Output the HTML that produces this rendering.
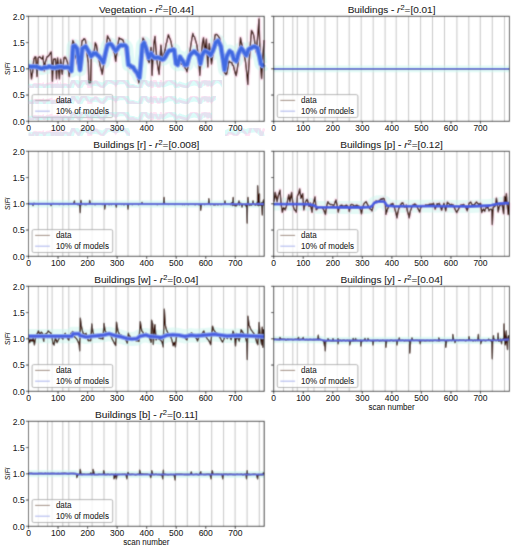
<!DOCTYPE html><html><head><meta charset="utf-8"><style>html,body{margin:0;padding:0;background:#fff;overflow:hidden;}svg{display:block;}text{font-family:"Liberation Sans",sans-serif;stroke:#1a1a1a;stroke-width:0.06px;}</style></head><body>
<svg width="516" height="550" viewBox="0 0 516 550">
<defs><filter id="bl" x="0" y="0" width="516" height="550" filterUnits="userSpaceOnUse"><feConvolveMatrix order="3" kernelMatrix="1 4 1 4 16 4 1 4 1" edgeMode="duplicate" preserveAlpha="true"/></filter></defs>
<rect width="516" height="550" fill="#fff"/>
<g filter="url(#bl)"><rect width="516" height="550" fill="#fff"/>
<line x1="38.3" y1="16.3" x2="38.3" y2="121.3" stroke="#c4c4c4" stroke-width="1"/>
<line x1="47.6" y1="16.3" x2="47.6" y2="121.3" stroke="#c4c4c4" stroke-width="1"/>
<line x1="52.1" y1="16.3" x2="52.1" y2="121.3" stroke="#c4c4c4" stroke-width="1"/>
<line x1="62.8" y1="16.3" x2="62.8" y2="121.3" stroke="#c4c4c4" stroke-width="1"/>
<line x1="68.8" y1="16.3" x2="68.8" y2="121.3" stroke="#c4c4c4" stroke-width="1"/>
<line x1="79.8" y1="16.3" x2="79.8" y2="121.3" stroke="#c4c4c4" stroke-width="1"/>
<line x1="92.1" y1="16.3" x2="92.1" y2="121.3" stroke="#c4c4c4" stroke-width="1"/>
<line x1="104" y1="16.3" x2="104" y2="121.3" stroke="#c4c4c4" stroke-width="1"/>
<line x1="116" y1="16.3" x2="116" y2="121.3" stroke="#c4c4c4" stroke-width="1"/>
<line x1="128" y1="16.3" x2="128" y2="121.3" stroke="#c4c4c4" stroke-width="1"/>
<line x1="139.9" y1="16.3" x2="139.9" y2="121.3" stroke="#c4c4c4" stroke-width="1"/>
<line x1="151" y1="16.3" x2="151" y2="121.3" stroke="#c4c4c4" stroke-width="1"/>
<line x1="163.4" y1="16.3" x2="163.4" y2="121.3" stroke="#c4c4c4" stroke-width="1"/>
<line x1="175.4" y1="16.3" x2="175.4" y2="121.3" stroke="#c4c4c4" stroke-width="1"/>
<line x1="187.3" y1="16.3" x2="187.3" y2="121.3" stroke="#c4c4c4" stroke-width="1"/>
<line x1="199.3" y1="16.3" x2="199.3" y2="121.3" stroke="#c4c4c4" stroke-width="1"/>
<line x1="211.7" y1="16.3" x2="211.7" y2="121.3" stroke="#c4c4c4" stroke-width="1"/>
<line x1="223.6" y1="16.3" x2="223.6" y2="121.3" stroke="#c4c4c4" stroke-width="1"/>
<line x1="235.1" y1="16.3" x2="235.1" y2="121.3" stroke="#c4c4c4" stroke-width="1"/>
<line x1="247.1" y1="16.3" x2="247.1" y2="121.3" stroke="#c4c4c4" stroke-width="1"/>
<line x1="259.3" y1="16.3" x2="259.3" y2="121.3" stroke="#c4c4c4" stroke-width="1"/>
<polyline points="28.5,66.6 29.62,66.5 30.75,66.56 31.88,66.87 33,66.4 34,66.53 35,66.73 36,66.97 37,66.72 38,67.2 39,67.54 40,67.98 41,68.47 42,68.5 43,67.84 44,67.8 45,67.34 46,67.5 47,67.56 48,67.19 49,66.29 50,66.5 51,67.24 52,67.48 53,67.43 54,67.66 55,67.8 56,67.26 57,66.92 58,67.23 59,66.56 60,66.8 61,66.67 62,66.89 63,66.86 64,67.5 65,67.34 66,67.19 67,67.47 68,67 69,67.77 70,68.5 71.4,71 72.3,58 73.1,46.4 75,45.8 76,47.29 77,48.5 78.5,58 80,70 81,62 82.4,48.5 83.47,47.8 84.53,47.26 85.6,46.4 86.95,48.66 88.3,51 89.75,53.38 91.2,56.2 92.4,55.25 93.6,53.3 94.75,53.8 95.9,53.3 97.35,55.09 98.8,56.2 99.95,57.86 101.1,59.1 102.25,60.67 103.4,62.6 105.2,54.4 106.35,49.48 107.5,45.1 108.95,44.34 110.4,44 111.55,44.72 112.7,46.3 113.7,48.1 114.7,49.27 115.7,50.9 117.15,49.25 118.6,46.9 119.75,45.89 120.9,45.1 122.07,45.56 123.23,45.45 124.4,45.1 125.55,45.75 126.7,47.4 128.4,64.9 129.6,65.16 130.8,66 131.95,67.01 133.1,67.2 134.8,70.1 136,71.52 137.2,73 138.35,75.83 139.5,77.7 140.7,64.9 142.4,45.1 144.1,42.8 146,48 147.35,52.85 148.7,57.9 149.85,55.17 151,53.3 152.15,55.13 153.3,56.7 154.45,57.58 155.6,57.9 156.77,57.67 157.93,57.49 159.1,57.9 160.25,58.33 161.4,59.1 162.6,59.56 163.8,59.1 164.95,57.61 166.1,55.6 167.55,52.87 169,50.9 170.45,50.35 171.9,50.3 173.05,49.65 174.2,49.8 176,63.7 177.7,64.9 178.85,60.36 180,56.7 181.2,58.75 182.4,60.2 183.55,62.23 184.7,64.9 185.85,64.96 187,64.9 188.15,60.75 189.3,56.7 190.5,54.69 191.7,53.3 192.85,52.63 194,51.5 195.15,52.03 196.3,53.3 197.5,54.59 198.7,55.6 200.4,63.7 202.1,55.5 203.5,52.82 204.9,50.9 206.35,51.57 207.8,52.4 209.25,53.56 210.7,55.3 211.8,52.87 212.9,50.9 214.35,47.02 215.8,42.2 216.9,41.75 218,40.7 219.45,43.4 220.9,46.5 222,53.43 223.1,59.6 224.5,69.8 225.6,62.96 226.7,56.7 228.15,53.69 229.6,50.9 230.7,52 231.8,52.4 232.9,56.14 234,59.6 235.1,59.95 236.2,61.1 237.3,57.94 238.4,53.8 239.85,50.61 241.3,48 242.75,49.96 244.2,52.4 245.3,54.12 246.4,55.3 247.45,52.23 248.5,49.5 249.5,48.8 250.5,48.07 251.5,48 252.95,46.84 254.4,46.5 255.85,47.33 257.3,48 258.4,52.09 259.5,56.7 260.9,64 262.4,65.5 264.2,64" fill="none" stroke="#c9f6ee" stroke-opacity="0.55" stroke-width="12.9" stroke-linejoin="round"/>
<polyline points="28.5,67 29.4,67.38 30.3,68.4 31.5,78.8 32.7,72 33.8,59.1 35,56.7 35.8,57 37,76.5 38.2,58 39.1,56.87 40,57 41,58.27 42,59 43,56 44.3,70.7 45.4,62 46.6,57.9 47.37,56.36 48.13,56.43 48.9,55.6 49.7,54.19 50.5,52.47 51.3,52.1 52.4,81.2 53.6,59.1 54.55,59.06 55.5,59 56.5,78.8 57.6,57.9 58.5,67.52 59.4,78.8 60.6,59.1 61.45,66.53 62.3,74.2 63.15,65.28 64,57.9 64.9,57.16 65.8,57.9 66.65,60.11 67.5,62.6 68.4,70.14 69.3,76.5 70.4,62.6 71.2,54.56 72,47.37 72.8,40.5 73.9,42.8 75.1,53.3 75.95,56.98 76.8,60.2 77.7,65.11 78.6,68.4 79.45,62.69 80.3,56.7 81.2,48.41 82.1,40.5 82.95,40.46 83.8,38.7 84.65,38.78 85.5,40.5 86.7,50.9 87.5,57.4 88.3,62.6 88.9,82.9 89.8,82.52 90.7,82.9 91.2,56.7 91.92,54.91 92.65,53.71 93.38,52.91 94.1,52.1 95.3,42.8 96.5,45.1 97.6,53.3 98.4,57.74 99.2,60.46 100,64.9 100.77,68.15 101.53,71.35 102.3,74.2 103.15,68.17 104,62.6 104.9,58.04 105.8,53.3 106.65,43.76 107.5,35.8 108.7,38.1 109.42,39.06 110.15,41.07 110.88,43.67 111.6,45.1 112.32,47.02 113.05,48.87 113.78,51.4 114.5,53.3 115.7,61.4 116.8,53.3 117.57,47.98 118.33,42.47 119.1,37.6 120,38.68 120.9,38.7 121.67,39.66 122.43,39.44 123.2,40.5 123.97,43.73 124.73,46.75 125.5,49.8 126.7,56.7 127.55,61.48 128.4,64.9 129.3,67.06 130.2,68.4 130.97,67.22 131.73,67.66 132.5,66 133.27,67.28 134.03,69.79 134.8,71.9 135.6,73.13 136.4,72.81 137.2,74.2 138.05,78.53 138.9,82.9 139.8,73.07 140.7,64.9 141.55,54.15 142.4,42.8 143,38.1 144.3,40.5 145.7,42.8 146.6,51.43 147.5,59.1 148.35,60.98 149.2,62.6 150.1,55.68 151,47.4 152.1,75.3 153,58.71 153.9,42.8 155,36.4 155.9,48.1 156.8,59.1 158,68.4 159.1,74.2 160,59.82 160.9,45.1 161.75,53.39 162.6,61.4 163.45,57.27 164.3,53.3 165.2,49.26 166.1,44 166.87,41.7 167.63,37.75 168.4,34.7 169.3,37.3 170.2,39.3 170.97,41.61 171.73,45.86 172.5,48.6 173.27,50.43 174.03,52.62 174.8,53.3 175.7,59.68 176.6,64.9 177.37,62.58 178.13,60.83 178.9,59.1 179.67,60.94 180.43,61.31 181.2,63.7 181.97,64.4 182.73,64.64 183.5,66 184.4,66.51 185.3,68.4 186.15,69.36 187,71.9 187.9,67.13 188.8,61.4 189.65,53.73 190.5,47.4 191.27,42.31 192.03,37.94 192.8,33.5 193.6,36.1 194.4,36.61 195.2,39.3 196.05,42.11 196.9,45.1 197.8,52.19 198.7,59.1 199.8,75.3 200.55,65.84 201.3,55 202.5,42.2 203.5,37.8 204.2,45.67 204.9,52.4 205.65,46.51 206.4,39.3 207.1,52.7 207.8,66.9 208.55,55.1 209.3,43.6 210.03,50.15 210.77,57.89 211.5,64 212.2,59.72 212.9,53.8 213.63,46.87 214.37,40.62 215.1,34.9 215.83,34.42 216.57,34.42 217.3,34.9 218.03,35.84 218.77,36.99 219.5,37.8 220.22,41.37 220.95,44.91 221.68,49.65 222.4,53.8 223.45,63.01 224.5,72.7 225.23,73.32 225.97,74.52 226.7,74.2 227.43,70.18 228.17,65.49 228.9,61.1 229.63,61.78 230.37,62.35 231.1,62.5 231.83,62.7 232.57,65.22 233.3,65.5 234.7,71.3 235.45,73.95 236.2,75.6 236.93,71.44 237.67,66.47 238.4,61.1 239.45,49.26 240.5,37.8 241.23,41.52 241.97,44.89 242.7,49.5 243.42,52.99 244.15,55.21 244.88,58.47 245.6,62.5 246.33,69.28 247.07,76.49 247.8,84.4 248.55,71.71 249.3,59.6 250.03,49.09 250.77,39.3 251.5,30.5 252.55,32.07 253.6,34.9 254.35,39.28 255.1,45.1 255.8,48.5 256.5,52.4 257.25,41.35 258,32 259,18.9 260.2,59.6 260.9,69.72 261.6,78.5 262.35,65.66 263.1,52.4 264.2,40" fill="none" stroke="#ffc4e2" stroke-opacity="0.45" stroke-width="4" stroke-linejoin="round"/>
<polyline points="28.5,67 29.4,67.38 30.3,68.4 31.5,78.8 32.7,72 33.8,59.1 35,56.7 35.8,57 37,76.5 38.2,58 39.1,56.87 40,57 41,58.27 42,59 43,56 44.3,70.7 45.4,62 46.6,57.9 47.37,56.36 48.13,56.43 48.9,55.6 49.7,54.19 50.5,52.47 51.3,52.1 52.4,81.2 53.6,59.1 54.55,59.06 55.5,59 56.5,78.8 57.6,57.9 58.5,67.52 59.4,78.8 60.6,59.1 61.45,66.53 62.3,74.2 63.15,65.28 64,57.9 64.9,57.16 65.8,57.9 66.65,60.11 67.5,62.6 68.4,70.14 69.3,76.5 70.4,62.6 71.2,54.56 72,47.37 72.8,40.5 73.9,42.8 75.1,53.3 75.95,56.98 76.8,60.2 77.7,65.11 78.6,68.4 79.45,62.69 80.3,56.7 81.2,48.41 82.1,40.5 82.95,40.46 83.8,38.7 84.65,38.78 85.5,40.5 86.7,50.9 87.5,57.4 88.3,62.6 88.9,82.9 89.8,82.52 90.7,82.9 91.2,56.7 91.92,54.91 92.65,53.71 93.38,52.91 94.1,52.1 95.3,42.8 96.5,45.1 97.6,53.3 98.4,57.74 99.2,60.46 100,64.9 100.77,68.15 101.53,71.35 102.3,74.2 103.15,68.17 104,62.6 104.9,58.04 105.8,53.3 106.65,43.76 107.5,35.8 108.7,38.1 109.42,39.06 110.15,41.07 110.88,43.67 111.6,45.1 112.32,47.02 113.05,48.87 113.78,51.4 114.5,53.3 115.7,61.4 116.8,53.3 117.57,47.98 118.33,42.47 119.1,37.6 120,38.68 120.9,38.7 121.67,39.66 122.43,39.44 123.2,40.5 123.97,43.73 124.73,46.75 125.5,49.8 126.7,56.7 127.55,61.48 128.4,64.9 129.3,67.06 130.2,68.4 130.97,67.22 131.73,67.66 132.5,66 133.27,67.28 134.03,69.79 134.8,71.9 135.6,73.13 136.4,72.81 137.2,74.2 138.05,78.53 138.9,82.9 139.8,73.07 140.7,64.9 141.55,54.15 142.4,42.8 143,38.1 144.3,40.5 145.7,42.8 146.6,51.43 147.5,59.1 148.35,60.98 149.2,62.6 150.1,55.68 151,47.4 152.1,75.3 153,58.71 153.9,42.8 155,36.4 155.9,48.1 156.8,59.1 158,68.4 159.1,74.2 160,59.82 160.9,45.1 161.75,53.39 162.6,61.4 163.45,57.27 164.3,53.3 165.2,49.26 166.1,44 166.87,41.7 167.63,37.75 168.4,34.7 169.3,37.3 170.2,39.3 170.97,41.61 171.73,45.86 172.5,48.6 173.27,50.43 174.03,52.62 174.8,53.3 175.7,59.68 176.6,64.9 177.37,62.58 178.13,60.83 178.9,59.1 179.67,60.94 180.43,61.31 181.2,63.7 181.97,64.4 182.73,64.64 183.5,66 184.4,66.51 185.3,68.4 186.15,69.36 187,71.9 187.9,67.13 188.8,61.4 189.65,53.73 190.5,47.4 191.27,42.31 192.03,37.94 192.8,33.5 193.6,36.1 194.4,36.61 195.2,39.3 196.05,42.11 196.9,45.1 197.8,52.19 198.7,59.1 199.8,75.3 200.55,65.84 201.3,55 202.5,42.2 203.5,37.8 204.2,45.67 204.9,52.4 205.65,46.51 206.4,39.3 207.1,52.7 207.8,66.9 208.55,55.1 209.3,43.6 210.03,50.15 210.77,57.89 211.5,64 212.2,59.72 212.9,53.8 213.63,46.87 214.37,40.62 215.1,34.9 215.83,34.42 216.57,34.42 217.3,34.9 218.03,35.84 218.77,36.99 219.5,37.8 220.22,41.37 220.95,44.91 221.68,49.65 222.4,53.8 223.45,63.01 224.5,72.7 225.23,73.32 225.97,74.52 226.7,74.2 227.43,70.18 228.17,65.49 228.9,61.1 229.63,61.78 230.37,62.35 231.1,62.5 231.83,62.7 232.57,65.22 233.3,65.5 234.7,71.3 235.45,73.95 236.2,75.6 236.93,71.44 237.67,66.47 238.4,61.1 239.45,49.26 240.5,37.8 241.23,41.52 241.97,44.89 242.7,49.5 243.42,52.99 244.15,55.21 244.88,58.47 245.6,62.5 246.33,69.28 247.07,76.49 247.8,84.4 248.55,71.71 249.3,59.6 250.03,49.09 250.77,39.3 251.5,30.5 252.55,32.07 253.6,34.9 254.35,39.28 255.1,45.1 255.8,48.5 256.5,52.4 257.25,41.35 258,32 259,18.9 260.2,59.6 260.9,69.72 261.6,78.5 262.35,65.66 263.1,52.4 264.2,40" fill="none" stroke="#3a160a" stroke-width="1.4" stroke-linejoin="round"/>
<polyline points="28.5,66.6 29.62,66.5 30.75,66.56 31.88,66.87 33,66.4 34,66.53 35,66.73 36,66.97 37,66.72 38,67.2 39,67.54 40,67.98 41,68.47 42,68.5 43,67.84 44,67.8 45,67.34 46,67.5 47,67.56 48,67.19 49,66.29 50,66.5 51,67.24 52,67.48 53,67.43 54,67.66 55,67.8 56,67.26 57,66.92 58,67.23 59,66.56 60,66.8 61,66.67 62,66.89 63,66.86 64,67.5 65,67.34 66,67.19 67,67.47 68,67 69,67.77 70,68.5 71.4,71 72.3,58 73.1,46.4 75,45.8 76,47.29 77,48.5 78.5,58 80,70 81,62 82.4,48.5 83.47,47.8 84.53,47.26 85.6,46.4 86.95,48.66 88.3,51 89.75,53.38 91.2,56.2 92.4,55.25 93.6,53.3 94.75,53.8 95.9,53.3 97.35,55.09 98.8,56.2 99.95,57.86 101.1,59.1 102.25,60.67 103.4,62.6 105.2,54.4 106.35,49.48 107.5,45.1 108.95,44.34 110.4,44 111.55,44.72 112.7,46.3 113.7,48.1 114.7,49.27 115.7,50.9 117.15,49.25 118.6,46.9 119.75,45.89 120.9,45.1 122.07,45.56 123.23,45.45 124.4,45.1 125.55,45.75 126.7,47.4 128.4,64.9 129.6,65.16 130.8,66 131.95,67.01 133.1,67.2 134.8,70.1 136,71.52 137.2,73 138.35,75.83 139.5,77.7 140.7,64.9 142.4,45.1 144.1,42.8 146,48 147.35,52.85 148.7,57.9 149.85,55.17 151,53.3 152.15,55.13 153.3,56.7 154.45,57.58 155.6,57.9 156.77,57.67 157.93,57.49 159.1,57.9 160.25,58.33 161.4,59.1 162.6,59.56 163.8,59.1 164.95,57.61 166.1,55.6 167.55,52.87 169,50.9 170.45,50.35 171.9,50.3 173.05,49.65 174.2,49.8 176,63.7 177.7,64.9 178.85,60.36 180,56.7 181.2,58.75 182.4,60.2 183.55,62.23 184.7,64.9 185.85,64.96 187,64.9 188.15,60.75 189.3,56.7 190.5,54.69 191.7,53.3 192.85,52.63 194,51.5 195.15,52.03 196.3,53.3 197.5,54.59 198.7,55.6 200.4,63.7 202.1,55.5 203.5,52.82 204.9,50.9 206.35,51.57 207.8,52.4 209.25,53.56 210.7,55.3 211.8,52.87 212.9,50.9 214.35,47.02 215.8,42.2 216.9,41.75 218,40.7 219.45,43.4 220.9,46.5 222,53.43 223.1,59.6 224.5,69.8 225.6,62.96 226.7,56.7 228.15,53.69 229.6,50.9 230.7,52 231.8,52.4 232.9,56.14 234,59.6 235.1,59.95 236.2,61.1 237.3,57.94 238.4,53.8 239.85,50.61 241.3,48 242.75,49.96 244.2,52.4 245.3,54.12 246.4,55.3 247.45,52.23 248.5,49.5 249.5,48.8 250.5,48.07 251.5,48 252.95,46.84 254.4,46.5 255.85,47.33 257.3,48 258.4,52.09 259.5,56.7 260.9,64 262.4,65.5 264.2,64" fill="none" stroke="#86a2f0" stroke-width="5.3" stroke-linejoin="round"/>
<polyline points="28.5,66.6 29.62,66.5 30.75,66.56 31.88,66.87 33,66.4 34,66.53 35,66.73 36,66.97 37,66.72 38,67.2 39,67.54 40,67.98 41,68.47 42,68.5 43,67.84 44,67.8 45,67.34 46,67.5 47,67.56 48,67.19 49,66.29 50,66.5 51,67.24 52,67.48 53,67.43 54,67.66 55,67.8 56,67.26 57,66.92 58,67.23 59,66.56 60,66.8 61,66.67 62,66.89 63,66.86 64,67.5 65,67.34 66,67.19 67,67.47 68,67 69,67.77 70,68.5 71.4,71 72.3,58 73.1,46.4 75,45.8 76,47.29 77,48.5 78.5,58 80,70 81,62 82.4,48.5 83.47,47.8 84.53,47.26 85.6,46.4 86.95,48.66 88.3,51 89.75,53.38 91.2,56.2 92.4,55.25 93.6,53.3 94.75,53.8 95.9,53.3 97.35,55.09 98.8,56.2 99.95,57.86 101.1,59.1 102.25,60.67 103.4,62.6 105.2,54.4 106.35,49.48 107.5,45.1 108.95,44.34 110.4,44 111.55,44.72 112.7,46.3 113.7,48.1 114.7,49.27 115.7,50.9 117.15,49.25 118.6,46.9 119.75,45.89 120.9,45.1 122.07,45.56 123.23,45.45 124.4,45.1 125.55,45.75 126.7,47.4 128.4,64.9 129.6,65.16 130.8,66 131.95,67.01 133.1,67.2 134.8,70.1 136,71.52 137.2,73 138.35,75.83 139.5,77.7 140.7,64.9 142.4,45.1 144.1,42.8 146,48 147.35,52.85 148.7,57.9 149.85,55.17 151,53.3 152.15,55.13 153.3,56.7 154.45,57.58 155.6,57.9 156.77,57.67 157.93,57.49 159.1,57.9 160.25,58.33 161.4,59.1 162.6,59.56 163.8,59.1 164.95,57.61 166.1,55.6 167.55,52.87 169,50.9 170.45,50.35 171.9,50.3 173.05,49.65 174.2,49.8 176,63.7 177.7,64.9 178.85,60.36 180,56.7 181.2,58.75 182.4,60.2 183.55,62.23 184.7,64.9 185.85,64.96 187,64.9 188.15,60.75 189.3,56.7 190.5,54.69 191.7,53.3 192.85,52.63 194,51.5 195.15,52.03 196.3,53.3 197.5,54.59 198.7,55.6 200.4,63.7 202.1,55.5 203.5,52.82 204.9,50.9 206.35,51.57 207.8,52.4 209.25,53.56 210.7,55.3 211.8,52.87 212.9,50.9 214.35,47.02 215.8,42.2 216.9,41.75 218,40.7 219.45,43.4 220.9,46.5 222,53.43 223.1,59.6 224.5,69.8 225.6,62.96 226.7,56.7 228.15,53.69 229.6,50.9 230.7,52 231.8,52.4 232.9,56.14 234,59.6 235.1,59.95 236.2,61.1 237.3,57.94 238.4,53.8 239.85,50.61 241.3,48 242.75,49.96 244.2,52.4 245.3,54.12 246.4,55.3 247.45,52.23 248.5,49.5 249.5,48.8 250.5,48.07 251.5,48 252.95,46.84 254.4,46.5 255.85,47.33 257.3,48 258.4,52.09 259.5,56.7 260.9,64 262.4,65.5 264.2,64" fill="none" stroke="#4169e1" stroke-width="3.3" stroke-linejoin="round"/>
<rect x="32.1" y="94.6" width="80.6" height="22.9" rx="1.6" fill="#fff" fill-opacity="0.8" stroke="#9a9a9a" stroke-width="0.8"/>
<line x1="35.1" y1="100.4" x2="49.9" y2="100.4" stroke="#9a8272" stroke-width="1.05"/>
<line x1="35.1" y1="111.2" x2="49.9" y2="111.2" stroke="#b3bcef" stroke-width="1.2"/>
<rect x="28.5" y="16.3" width="235.7" height="105" fill="none" stroke="#111111" stroke-width="0.9"/>
<line x1="28.5" y1="121.3" x2="28.5" y2="123.8" stroke="#111111" stroke-width="0.9"/>
<line x1="58.04" y1="121.3" x2="58.04" y2="123.8" stroke="#111111" stroke-width="0.9"/>
<line x1="87.58" y1="121.3" x2="87.58" y2="123.8" stroke="#111111" stroke-width="0.9"/>
<line x1="117.12" y1="121.3" x2="117.12" y2="123.8" stroke="#111111" stroke-width="0.9"/>
<line x1="146.66" y1="121.3" x2="146.66" y2="123.8" stroke="#111111" stroke-width="0.9"/>
<line x1="176.2" y1="121.3" x2="176.2" y2="123.8" stroke="#111111" stroke-width="0.9"/>
<line x1="205.74" y1="121.3" x2="205.74" y2="123.8" stroke="#111111" stroke-width="0.9"/>
<line x1="235.28" y1="121.3" x2="235.28" y2="123.8" stroke="#111111" stroke-width="0.9"/>
<line x1="25.9" y1="121.3" x2="28.5" y2="121.3" stroke="#111111" stroke-width="0.9"/>
<line x1="25.9" y1="95.05" x2="28.5" y2="95.05" stroke="#111111" stroke-width="0.9"/>
<line x1="25.9" y1="68.8" x2="28.5" y2="68.8" stroke="#111111" stroke-width="0.9"/>
<line x1="25.9" y1="42.55" x2="28.5" y2="42.55" stroke="#111111" stroke-width="0.9"/>
<line x1="25.9" y1="16.3" x2="28.5" y2="16.3" stroke="#111111" stroke-width="0.9"/>
<line x1="283.5" y1="16.3" x2="283.5" y2="121.3" stroke="#c4c4c4" stroke-width="1"/>
<line x1="292.8" y1="16.3" x2="292.8" y2="121.3" stroke="#c4c4c4" stroke-width="1"/>
<line x1="297.3" y1="16.3" x2="297.3" y2="121.3" stroke="#c4c4c4" stroke-width="1"/>
<line x1="308" y1="16.3" x2="308" y2="121.3" stroke="#c4c4c4" stroke-width="1"/>
<line x1="314" y1="16.3" x2="314" y2="121.3" stroke="#c4c4c4" stroke-width="1"/>
<line x1="325" y1="16.3" x2="325" y2="121.3" stroke="#c4c4c4" stroke-width="1"/>
<line x1="337.3" y1="16.3" x2="337.3" y2="121.3" stroke="#c4c4c4" stroke-width="1"/>
<line x1="349.2" y1="16.3" x2="349.2" y2="121.3" stroke="#c4c4c4" stroke-width="1"/>
<line x1="361.2" y1="16.3" x2="361.2" y2="121.3" stroke="#c4c4c4" stroke-width="1"/>
<line x1="373.2" y1="16.3" x2="373.2" y2="121.3" stroke="#c4c4c4" stroke-width="1"/>
<line x1="385.1" y1="16.3" x2="385.1" y2="121.3" stroke="#c4c4c4" stroke-width="1"/>
<line x1="396.2" y1="16.3" x2="396.2" y2="121.3" stroke="#c4c4c4" stroke-width="1"/>
<line x1="408.6" y1="16.3" x2="408.6" y2="121.3" stroke="#c4c4c4" stroke-width="1"/>
<line x1="420.6" y1="16.3" x2="420.6" y2="121.3" stroke="#c4c4c4" stroke-width="1"/>
<line x1="432.5" y1="16.3" x2="432.5" y2="121.3" stroke="#c4c4c4" stroke-width="1"/>
<line x1="444.5" y1="16.3" x2="444.5" y2="121.3" stroke="#c4c4c4" stroke-width="1"/>
<line x1="456.9" y1="16.3" x2="456.9" y2="121.3" stroke="#c4c4c4" stroke-width="1"/>
<line x1="468.8" y1="16.3" x2="468.8" y2="121.3" stroke="#c4c4c4" stroke-width="1"/>
<line x1="480.3" y1="16.3" x2="480.3" y2="121.3" stroke="#c4c4c4" stroke-width="1"/>
<line x1="492.3" y1="16.3" x2="492.3" y2="121.3" stroke="#c4c4c4" stroke-width="1"/>
<line x1="504.5" y1="16.3" x2="504.5" y2="121.3" stroke="#c4c4c4" stroke-width="1"/>
<polyline points="273.7,68.8 509.4,68.8" fill="none" stroke="#c9f6ee" stroke-opacity="0.55" stroke-width="6.8" stroke-linejoin="round"/>
<polyline points="273.7,68.8 509.4,68.8" fill="none" stroke="#3a160a" stroke-width="1.4" stroke-linejoin="round"/>
<polyline points="273.7,68.8 509.4,68.8" fill="none" stroke="#5c68d8" stroke-width="1.8" stroke-linejoin="round"/>
<rect x="277.3" y="94.6" width="80.6" height="22.9" rx="1.6" fill="#fff" fill-opacity="0.8" stroke="#9a9a9a" stroke-width="0.8"/>
<line x1="280.3" y1="100.4" x2="295.1" y2="100.4" stroke="#9a8272" stroke-width="1.05"/>
<line x1="280.3" y1="111.2" x2="295.1" y2="111.2" stroke="#b3bcef" stroke-width="1.2"/>
<rect x="273.7" y="16.3" width="235.7" height="105" fill="none" stroke="#111111" stroke-width="0.9"/>
<line x1="273.7" y1="121.3" x2="273.7" y2="123.8" stroke="#111111" stroke-width="0.9"/>
<line x1="303.24" y1="121.3" x2="303.24" y2="123.8" stroke="#111111" stroke-width="0.9"/>
<line x1="332.78" y1="121.3" x2="332.78" y2="123.8" stroke="#111111" stroke-width="0.9"/>
<line x1="362.32" y1="121.3" x2="362.32" y2="123.8" stroke="#111111" stroke-width="0.9"/>
<line x1="391.86" y1="121.3" x2="391.86" y2="123.8" stroke="#111111" stroke-width="0.9"/>
<line x1="421.4" y1="121.3" x2="421.4" y2="123.8" stroke="#111111" stroke-width="0.9"/>
<line x1="450.94" y1="121.3" x2="450.94" y2="123.8" stroke="#111111" stroke-width="0.9"/>
<line x1="480.48" y1="121.3" x2="480.48" y2="123.8" stroke="#111111" stroke-width="0.9"/>
<line x1="271.1" y1="121.3" x2="273.7" y2="121.3" stroke="#111111" stroke-width="0.9"/>
<line x1="271.1" y1="95.05" x2="273.7" y2="95.05" stroke="#111111" stroke-width="0.9"/>
<line x1="271.1" y1="68.8" x2="273.7" y2="68.8" stroke="#111111" stroke-width="0.9"/>
<line x1="271.1" y1="42.55" x2="273.7" y2="42.55" stroke="#111111" stroke-width="0.9"/>
<line x1="271.1" y1="16.3" x2="273.7" y2="16.3" stroke="#111111" stroke-width="0.9"/>
<line x1="38.3" y1="151.3" x2="38.3" y2="256.3" stroke="#c4c4c4" stroke-width="1"/>
<line x1="47.6" y1="151.3" x2="47.6" y2="256.3" stroke="#c4c4c4" stroke-width="1"/>
<line x1="52.1" y1="151.3" x2="52.1" y2="256.3" stroke="#c4c4c4" stroke-width="1"/>
<line x1="62.8" y1="151.3" x2="62.8" y2="256.3" stroke="#c4c4c4" stroke-width="1"/>
<line x1="68.8" y1="151.3" x2="68.8" y2="256.3" stroke="#c4c4c4" stroke-width="1"/>
<line x1="79.8" y1="151.3" x2="79.8" y2="256.3" stroke="#c4c4c4" stroke-width="1"/>
<line x1="92.1" y1="151.3" x2="92.1" y2="256.3" stroke="#c4c4c4" stroke-width="1"/>
<line x1="104" y1="151.3" x2="104" y2="256.3" stroke="#c4c4c4" stroke-width="1"/>
<line x1="116" y1="151.3" x2="116" y2="256.3" stroke="#c4c4c4" stroke-width="1"/>
<line x1="128" y1="151.3" x2="128" y2="256.3" stroke="#c4c4c4" stroke-width="1"/>
<line x1="139.9" y1="151.3" x2="139.9" y2="256.3" stroke="#c4c4c4" stroke-width="1"/>
<line x1="151" y1="151.3" x2="151" y2="256.3" stroke="#c4c4c4" stroke-width="1"/>
<line x1="163.4" y1="151.3" x2="163.4" y2="256.3" stroke="#c4c4c4" stroke-width="1"/>
<line x1="175.4" y1="151.3" x2="175.4" y2="256.3" stroke="#c4c4c4" stroke-width="1"/>
<line x1="187.3" y1="151.3" x2="187.3" y2="256.3" stroke="#c4c4c4" stroke-width="1"/>
<line x1="199.3" y1="151.3" x2="199.3" y2="256.3" stroke="#c4c4c4" stroke-width="1"/>
<line x1="211.7" y1="151.3" x2="211.7" y2="256.3" stroke="#c4c4c4" stroke-width="1"/>
<line x1="223.6" y1="151.3" x2="223.6" y2="256.3" stroke="#c4c4c4" stroke-width="1"/>
<line x1="235.1" y1="151.3" x2="235.1" y2="256.3" stroke="#c4c4c4" stroke-width="1"/>
<line x1="247.1" y1="151.3" x2="247.1" y2="256.3" stroke="#c4c4c4" stroke-width="1"/>
<line x1="259.3" y1="151.3" x2="259.3" y2="256.3" stroke="#c4c4c4" stroke-width="1"/>
<polyline points="28.5,203.9 264.2,204.2" fill="none" stroke="#c9f6ee" stroke-opacity="0.55" stroke-width="7.2" stroke-linejoin="round"/>
<polyline points="28.5,203.74 29.5,204.05 30.5,203.87 31.5,204.11 32.5,204.13 33,205.6 33.5,203.57 34.5,203.52 35.5,204.35 36.5,203.77 37.5,203.75 38.5,204.51 39.5,203.98 40.5,204.35 41.5,203.99 42.5,204.16 43.5,203.67 44.5,204.16 45.5,204.39 46.5,204.05 47.5,204.27 48.5,204.2 49.5,203.59 50.5,204.29 51,205.6 51.5,204.12 52.5,203.83 53.5,203.56 54.5,204.4 55.5,204.01 56.5,204.25 57.5,204.42 58.5,204.25 59.5,204.46 60.5,203.94 61.5,204.34 62.5,203.99 63.5,204.48 64.5,204.42 65.5,203.64 66.5,203.68 67.5,203.77 68.5,204.52 69.5,203.99 70.5,204.18 71.5,203.86 72.5,204.06 73.5,203.94 74.5,201 74.5,203.91 75.5,204.14 76.5,204.15 77.5,204.47 78.5,204.25 79.5,204.49 80.3,212.6 80.5,204.42 81,200.5 81.5,204.56 82.5,204.24 83.5,203.73 84.5,204.43 85.5,204.54 86.5,204.48 87.5,204.14 88.5,204.29 89.5,203.79 89.6,200.5 90.5,204.41 91.5,204.15 92.5,203.87 93.5,203.65 94.5,204.44 95.5,204.58 96.5,203.68 97.5,204.39 98.5,204 99.5,203.74 100.5,203.89 101.5,204.36 102.5,204.47 103.5,203.64 104.5,204.21 104.7,209 105.5,203.64 106.5,204.32 107.5,203.93 108.5,204.48 109.5,204.58 110.5,204.11 111.5,204.6 112.5,203.92 113.5,203.69 114.5,204.21 115.5,203.64 116.4,207 116.5,203.81 117.5,204.02 118.5,204.23 119.5,203.77 120.5,203.66 121.5,204.49 122.5,203.93 123.5,204.58 124.5,204.52 125.5,204 126.5,204.09 127.5,204.15 128,209 128.5,204.27 129.5,204.22 130.5,204.19 131.5,204.25 132.5,204.57 133.5,204.14 134.5,204.07 135.5,204.36 136.5,203.88 137.5,203.94 138.5,204.62 139.5,204.16 140.5,204.19 141.5,203.66 142,202.5 142.5,204.06 143.5,204.23 144.5,203.67 145.5,204.26 146.5,204.28 147.5,203.71 148.5,204.28 149.5,204.12 150.5,204.33 151.5,204.01 152.5,204.36 153.5,204.4 154.5,203.68 155.5,203.72 156.5,204.34 157.5,204.63 158.5,203.92 159.5,204.12 160.5,204.26 161.5,203.99 162.5,204.03 163.5,203.98 164.1,197.4 164.5,204.04 165.5,204.27 166.5,203.98 167.5,204.05 168.5,204.45 169.5,203.71 170.5,204.25 171.5,204.42 172.5,203.99 173.5,203.91 174.5,204.49 175.5,203.93 176.5,203.88 177.5,204.12 178.5,204.39 179.5,203.79 180.5,204.02 181.5,204.03 182.5,204.53 183.5,204.14 184.5,204.55 185.5,203.87 186.5,204.04 187.5,204.35 188.5,204.59 189.5,204.16 190.5,203.93 191.5,203.83 192.5,204.24 193.5,203.9 194.5,204.52 195.5,204.55 196.5,203.9 197.5,203.99 198.5,204.52 199.5,204.36 200.5,204.53 200.7,210.2 201.5,204.07 202.5,203.85 203.5,204.01 204.5,204.52 205.5,204 206.5,204.07 207.5,204.14 208.5,204.15 208.8,198.6 209.5,204.14 210.5,204.65 211.5,203.89 212.5,203.74 213.5,204.68 214.5,204.62 215.5,204.72 216.5,204.17 217.5,204.69 218.5,204.67 219.5,203.97 220.5,204.49 221.5,204.58 222.5,204.41 223.5,204.27 224.5,204.04 225,201 225.5,204.09 226.5,203.98 227.5,203.82 228.5,204.34 229.5,204.04 230.5,204.57 231.5,202.8 232.5,205.55 233.2,197.4 233.5,204.88 234.5,205.62 235.5,205.53 236,206 236.5,205.54 237.5,204.51 238.5,202.71 239,201 239.5,205.05 240.5,203.22 241.5,203.63 242,207 242.5,204.79 243.5,204.35 244.5,204 245.5,205.68 246.5,204.64 247.2,223 247.5,203.77 248,197.4 248.5,203.49 249.5,205.44 250.5,204.21 251.5,205.19 252.5,203.81 253,201 253.5,203.32 254.5,204.4 255.5,205.3 256.5,203.24 257.5,205.22 257.6,185.8 258.5,205.64 259.5,194 259.5,205.27 260.5,205.33 261.5,202.72 262.3,214.9 262.5,204.71 263.5,200 263.5,205.46" fill="none" stroke="#3a160a" stroke-width="1.4" stroke-linejoin="round"/>
<polyline points="28.5,203.9 264.2,204.2" fill="none" stroke="#5c68d8" stroke-width="2.2" stroke-linejoin="round"/>
<rect x="32.1" y="229.6" width="80.6" height="22.9" rx="1.6" fill="#fff" fill-opacity="0.8" stroke="#9a9a9a" stroke-width="0.8"/>
<line x1="35.1" y1="235.4" x2="49.9" y2="235.4" stroke="#9a8272" stroke-width="1.05"/>
<line x1="35.1" y1="246.2" x2="49.9" y2="246.2" stroke="#b3bcef" stroke-width="1.2"/>
<rect x="28.5" y="151.3" width="235.7" height="105" fill="none" stroke="#111111" stroke-width="0.9"/>
<line x1="28.5" y1="256.3" x2="28.5" y2="258.8" stroke="#111111" stroke-width="0.9"/>
<line x1="58.04" y1="256.3" x2="58.04" y2="258.8" stroke="#111111" stroke-width="0.9"/>
<line x1="87.58" y1="256.3" x2="87.58" y2="258.8" stroke="#111111" stroke-width="0.9"/>
<line x1="117.12" y1="256.3" x2="117.12" y2="258.8" stroke="#111111" stroke-width="0.9"/>
<line x1="146.66" y1="256.3" x2="146.66" y2="258.8" stroke="#111111" stroke-width="0.9"/>
<line x1="176.2" y1="256.3" x2="176.2" y2="258.8" stroke="#111111" stroke-width="0.9"/>
<line x1="205.74" y1="256.3" x2="205.74" y2="258.8" stroke="#111111" stroke-width="0.9"/>
<line x1="235.28" y1="256.3" x2="235.28" y2="258.8" stroke="#111111" stroke-width="0.9"/>
<line x1="25.9" y1="256.3" x2="28.5" y2="256.3" stroke="#111111" stroke-width="0.9"/>
<line x1="25.9" y1="230.05" x2="28.5" y2="230.05" stroke="#111111" stroke-width="0.9"/>
<line x1="25.9" y1="203.8" x2="28.5" y2="203.8" stroke="#111111" stroke-width="0.9"/>
<line x1="25.9" y1="177.55" x2="28.5" y2="177.55" stroke="#111111" stroke-width="0.9"/>
<line x1="25.9" y1="151.3" x2="28.5" y2="151.3" stroke="#111111" stroke-width="0.9"/>
<line x1="283.5" y1="151.3" x2="283.5" y2="256.3" stroke="#c4c4c4" stroke-width="1"/>
<line x1="292.8" y1="151.3" x2="292.8" y2="256.3" stroke="#c4c4c4" stroke-width="1"/>
<line x1="297.3" y1="151.3" x2="297.3" y2="256.3" stroke="#c4c4c4" stroke-width="1"/>
<line x1="308" y1="151.3" x2="308" y2="256.3" stroke="#c4c4c4" stroke-width="1"/>
<line x1="314" y1="151.3" x2="314" y2="256.3" stroke="#c4c4c4" stroke-width="1"/>
<line x1="325" y1="151.3" x2="325" y2="256.3" stroke="#c4c4c4" stroke-width="1"/>
<line x1="337.3" y1="151.3" x2="337.3" y2="256.3" stroke="#c4c4c4" stroke-width="1"/>
<line x1="349.2" y1="151.3" x2="349.2" y2="256.3" stroke="#c4c4c4" stroke-width="1"/>
<line x1="361.2" y1="151.3" x2="361.2" y2="256.3" stroke="#c4c4c4" stroke-width="1"/>
<line x1="373.2" y1="151.3" x2="373.2" y2="256.3" stroke="#c4c4c4" stroke-width="1"/>
<line x1="385.1" y1="151.3" x2="385.1" y2="256.3" stroke="#c4c4c4" stroke-width="1"/>
<line x1="396.2" y1="151.3" x2="396.2" y2="256.3" stroke="#c4c4c4" stroke-width="1"/>
<line x1="408.6" y1="151.3" x2="408.6" y2="256.3" stroke="#c4c4c4" stroke-width="1"/>
<line x1="420.6" y1="151.3" x2="420.6" y2="256.3" stroke="#c4c4c4" stroke-width="1"/>
<line x1="432.5" y1="151.3" x2="432.5" y2="256.3" stroke="#c4c4c4" stroke-width="1"/>
<line x1="444.5" y1="151.3" x2="444.5" y2="256.3" stroke="#c4c4c4" stroke-width="1"/>
<line x1="456.9" y1="151.3" x2="456.9" y2="256.3" stroke="#c4c4c4" stroke-width="1"/>
<line x1="468.8" y1="151.3" x2="468.8" y2="256.3" stroke="#c4c4c4" stroke-width="1"/>
<line x1="480.3" y1="151.3" x2="480.3" y2="256.3" stroke="#c4c4c4" stroke-width="1"/>
<line x1="492.3" y1="151.3" x2="492.3" y2="256.3" stroke="#c4c4c4" stroke-width="1"/>
<line x1="504.5" y1="151.3" x2="504.5" y2="256.3" stroke="#c4c4c4" stroke-width="1"/>
<polyline points="273.7,204.1 300,204.1 310,204.3 314,205.5 317,207.3 330,207.4 345,207.5 360,207.5 370,207 372,206 374.3,202.8 378,201.6 383.6,201.6 385,202.5 387.1,205.7 395,206.3 430,206.2 460,206.3 470,206.5 490,205.5 495,204.3 500,203.5 509.4,203.2" fill="none" stroke="#c9f6ee" stroke-opacity="0.5" stroke-width="12.8" stroke-linejoin="round"/>
<polyline points="274.2,201.7 275.3,192.4 276.2,197.01 277.1,201.7 278.2,196 279.1,192.92 280,190.1 281.1,204 282.3,212.2 283.5,207.6 284.35,208.39 285.2,209.9 286.1,207.32 287,204 287.85,198.91 288.7,194.8 289.9,201.7 290.75,197.05 291.6,192.4 292.45,199.8 293.3,206.4 294.5,209.9 295.4,210.63 296.3,212.2 297.4,196 298.6,193.6 299.7,189 300.9,198.3 301.8,196 302.7,193.6 303.8,209.9 304.7,205.92 305.6,201.7 306.45,200.09 307.3,199.4 308.15,202.78 309,206.4 310.2,202.9 311.1,207.75 312,212.2 313.1,204 314.05,200.45 315,197 316.2,209.8 317.35,208.83 318.5,207.4 319.38,207.06 320.25,207.14 321.12,207.01 322,207.4 322.85,208.61 323.7,209.8 324.6,212.52 325.5,214.4 326.6,206.3 327.8,201.6 328.65,202.89 329.5,204 330.4,204.52 331.3,204.5 332.27,204.58 333.23,205.15 334.2,205.1 335.05,202.1 335.9,199.9 337.1,205.1 338.3,212.1 339.4,206.3 340.55,205.49 341.7,205.1 342.5,205.67 343.3,206.13 344.1,206.3 345.25,205.62 346.4,205.1 347.55,205.84 348.7,207.4 349.3,211.5 350.5,205.1 351.35,204.57 352.2,204.5 353.35,205.11 354.5,206.3 355.7,205.48 356.9,205.1 358.05,206.01 359.2,206.3 360.3,209.2 361.5,213.8 362.7,207.4 363.8,204 365,202.5 366.2,201.6 367.05,203.74 367.9,205.1 368.8,207.23 369.7,208.6 370.85,209.3 372,210.9 373.1,206.3 374.3,203 375.15,201.88 376,201 377.1,201.49 378.2,202 379.23,200.42 380.27,199.72 381.3,198.7 382.27,199.11 383.23,198.31 384.2,198.7 385.4,205.1 386,214.4 386.85,211.6 387.7,208.6 388.55,207.07 389.4,206.3 390.3,205.23 391.2,204 392.05,204.1 392.9,203.4 393.8,205.7 394.7,208.6 395.85,212.76 397,217.9 397.85,212.83 398.7,208.6 399.5,207.11 400.3,205.05 401.1,204 401.95,202.98 402.8,202.8 403.7,205.1 404.6,207.4 405.45,206.67 406.3,205.1 407.5,211.5 408.35,214.62 409.2,217.9 410.4,210.9 411.55,207.9 412.7,205.1 413.55,204.69 414.4,204 415.3,204.14 416.2,205.1 417.35,207.53 418.5,209.8 419.7,212.1 420.8,207.4 422,206.22 423.2,205.7 424.07,205.66 424.95,205.86 425.82,204.8 426.7,205.1 427.55,205.01 428.4,204.91 429.25,204.3 430.1,204.5 430.95,203.97 431.8,204.39 432.65,204.1 433.5,203.3 434.35,205.82 435.2,209.1 436.1,206.66 437,203.8 438.15,204 439.3,203.3 440.45,206.49 441.6,210.2 442.8,206.86 444,203.3 444.85,206.59 445.7,210.8 446.55,206.32 447.4,202.1 448.2,203.04 449,203.72 449.8,204.4 450.68,204.82 451.55,204.29 452.43,204.7 453.3,205 454.15,207.41 455,209.1 455.85,210.93 456.7,212.6 457.6,210.8 458.5,209.1 459.65,206.95 460.8,205 461.77,205.29 462.73,204.67 463.7,204.4 464.85,205.67 466,207.9 467.2,210.8 468.1,207.35 469,203.3 469.85,202.53 470.7,202.1 471.9,204.4 473.05,204.63 474.2,205 475.35,203.26 476.5,202.1 477.65,203.19 478.8,204.4 479.7,203.67 480.6,203.3 481.7,212.6 482.6,210.44 483.5,209.1 484.7,211.4 485.8,207.9 486.95,207.73 488.1,207.3 489,210.9 489.95,209.6 490.9,209.1 491.8,210 492.3,224.5 493.2,207.3 494.35,206.68 495.5,205.5 496.4,198.2 497.3,203.6 498.2,211.8 499.1,207.3 500,205.29 500.9,204.51 501.8,202.7 502.7,208.46 503.6,213.6 504.5,196.4 505.5,202.7 506.4,193.6 507.3,206.4 508.2,214.5 509.1,202.7" fill="none" stroke="#ffc4e2" stroke-opacity="0.35" stroke-width="4" stroke-linejoin="round"/>
<polyline points="274.2,201.7 275.3,192.4 276.2,197.01 277.1,201.7 278.2,196 279.1,192.92 280,190.1 281.1,204 282.3,212.2 283.5,207.6 284.35,208.39 285.2,209.9 286.1,207.32 287,204 287.85,198.91 288.7,194.8 289.9,201.7 290.75,197.05 291.6,192.4 292.45,199.8 293.3,206.4 294.5,209.9 295.4,210.63 296.3,212.2 297.4,196 298.6,193.6 299.7,189 300.9,198.3 301.8,196 302.7,193.6 303.8,209.9 304.7,205.92 305.6,201.7 306.45,200.09 307.3,199.4 308.15,202.78 309,206.4 310.2,202.9 311.1,207.75 312,212.2 313.1,204 314.05,200.45 315,197 316.2,209.8 317.35,208.83 318.5,207.4 319.38,207.06 320.25,207.14 321.12,207.01 322,207.4 322.85,208.61 323.7,209.8 324.6,212.52 325.5,214.4 326.6,206.3 327.8,201.6 328.65,202.89 329.5,204 330.4,204.52 331.3,204.5 332.27,204.58 333.23,205.15 334.2,205.1 335.05,202.1 335.9,199.9 337.1,205.1 338.3,212.1 339.4,206.3 340.55,205.49 341.7,205.1 342.5,205.67 343.3,206.13 344.1,206.3 345.25,205.62 346.4,205.1 347.55,205.84 348.7,207.4 349.3,211.5 350.5,205.1 351.35,204.57 352.2,204.5 353.35,205.11 354.5,206.3 355.7,205.48 356.9,205.1 358.05,206.01 359.2,206.3 360.3,209.2 361.5,213.8 362.7,207.4 363.8,204 365,202.5 366.2,201.6 367.05,203.74 367.9,205.1 368.8,207.23 369.7,208.6 370.85,209.3 372,210.9 373.1,206.3 374.3,203 375.15,201.88 376,201 377.1,201.49 378.2,202 379.23,200.42 380.27,199.72 381.3,198.7 382.27,199.11 383.23,198.31 384.2,198.7 385.4,205.1 386,214.4 386.85,211.6 387.7,208.6 388.55,207.07 389.4,206.3 390.3,205.23 391.2,204 392.05,204.1 392.9,203.4 393.8,205.7 394.7,208.6 395.85,212.76 397,217.9 397.85,212.83 398.7,208.6 399.5,207.11 400.3,205.05 401.1,204 401.95,202.98 402.8,202.8 403.7,205.1 404.6,207.4 405.45,206.67 406.3,205.1 407.5,211.5 408.35,214.62 409.2,217.9 410.4,210.9 411.55,207.9 412.7,205.1 413.55,204.69 414.4,204 415.3,204.14 416.2,205.1 417.35,207.53 418.5,209.8 419.7,212.1 420.8,207.4 422,206.22 423.2,205.7 424.07,205.66 424.95,205.86 425.82,204.8 426.7,205.1 427.55,205.01 428.4,204.91 429.25,204.3 430.1,204.5 430.95,203.97 431.8,204.39 432.65,204.1 433.5,203.3 434.35,205.82 435.2,209.1 436.1,206.66 437,203.8 438.15,204 439.3,203.3 440.45,206.49 441.6,210.2 442.8,206.86 444,203.3 444.85,206.59 445.7,210.8 446.55,206.32 447.4,202.1 448.2,203.04 449,203.72 449.8,204.4 450.68,204.82 451.55,204.29 452.43,204.7 453.3,205 454.15,207.41 455,209.1 455.85,210.93 456.7,212.6 457.6,210.8 458.5,209.1 459.65,206.95 460.8,205 461.77,205.29 462.73,204.67 463.7,204.4 464.85,205.67 466,207.9 467.2,210.8 468.1,207.35 469,203.3 469.85,202.53 470.7,202.1 471.9,204.4 473.05,204.63 474.2,205 475.35,203.26 476.5,202.1 477.65,203.19 478.8,204.4 479.7,203.67 480.6,203.3 481.7,212.6 482.6,210.44 483.5,209.1 484.7,211.4 485.8,207.9 486.95,207.73 488.1,207.3 489,210.9 489.95,209.6 490.9,209.1 491.8,210 492.3,224.5 493.2,207.3 494.35,206.68 495.5,205.5 496.4,198.2 497.3,203.6 498.2,211.8 499.1,207.3 500,205.29 500.9,204.51 501.8,202.7 502.7,208.46 503.6,213.6 504.5,196.4 505.5,202.7 506.4,193.6 507.3,206.4 508.2,214.5 509.1,202.7" fill="none" stroke="#3a160a" stroke-width="1.4" stroke-linejoin="round"/>
<polyline points="273.7,204.1 300,204.1 310,204.3 314,205.5 317,207.3 330,207.4 345,207.5 360,207.5 370,207 372,206 374.3,202.8 378,201.6 383.6,201.6 385,202.5 387.1,205.7 395,206.3 430,206.2 460,206.3 470,206.5 490,205.5 495,204.3 500,203.5 509.4,203.2" fill="none" stroke="#4a5fe0" stroke-width="2.8" stroke-linejoin="round"/>
<rect x="277.3" y="229.6" width="80.6" height="22.9" rx="1.6" fill="#fff" fill-opacity="0.8" stroke="#9a9a9a" stroke-width="0.8"/>
<line x1="280.3" y1="235.4" x2="295.1" y2="235.4" stroke="#9a8272" stroke-width="1.05"/>
<line x1="280.3" y1="246.2" x2="295.1" y2="246.2" stroke="#b3bcef" stroke-width="1.2"/>
<rect x="273.7" y="151.3" width="235.7" height="105" fill="none" stroke="#111111" stroke-width="0.9"/>
<line x1="273.7" y1="256.3" x2="273.7" y2="258.8" stroke="#111111" stroke-width="0.9"/>
<line x1="303.24" y1="256.3" x2="303.24" y2="258.8" stroke="#111111" stroke-width="0.9"/>
<line x1="332.78" y1="256.3" x2="332.78" y2="258.8" stroke="#111111" stroke-width="0.9"/>
<line x1="362.32" y1="256.3" x2="362.32" y2="258.8" stroke="#111111" stroke-width="0.9"/>
<line x1="391.86" y1="256.3" x2="391.86" y2="258.8" stroke="#111111" stroke-width="0.9"/>
<line x1="421.4" y1="256.3" x2="421.4" y2="258.8" stroke="#111111" stroke-width="0.9"/>
<line x1="450.94" y1="256.3" x2="450.94" y2="258.8" stroke="#111111" stroke-width="0.9"/>
<line x1="480.48" y1="256.3" x2="480.48" y2="258.8" stroke="#111111" stroke-width="0.9"/>
<line x1="271.1" y1="256.3" x2="273.7" y2="256.3" stroke="#111111" stroke-width="0.9"/>
<line x1="271.1" y1="230.05" x2="273.7" y2="230.05" stroke="#111111" stroke-width="0.9"/>
<line x1="271.1" y1="203.8" x2="273.7" y2="203.8" stroke="#111111" stroke-width="0.9"/>
<line x1="271.1" y1="177.55" x2="273.7" y2="177.55" stroke="#111111" stroke-width="0.9"/>
<line x1="271.1" y1="151.3" x2="273.7" y2="151.3" stroke="#111111" stroke-width="0.9"/>
<line x1="38.3" y1="286.3" x2="38.3" y2="391.3" stroke="#c4c4c4" stroke-width="1"/>
<line x1="47.6" y1="286.3" x2="47.6" y2="391.3" stroke="#c4c4c4" stroke-width="1"/>
<line x1="52.1" y1="286.3" x2="52.1" y2="391.3" stroke="#c4c4c4" stroke-width="1"/>
<line x1="62.8" y1="286.3" x2="62.8" y2="391.3" stroke="#c4c4c4" stroke-width="1"/>
<line x1="68.8" y1="286.3" x2="68.8" y2="391.3" stroke="#c4c4c4" stroke-width="1"/>
<line x1="79.8" y1="286.3" x2="79.8" y2="391.3" stroke="#c4c4c4" stroke-width="1"/>
<line x1="92.1" y1="286.3" x2="92.1" y2="391.3" stroke="#c4c4c4" stroke-width="1"/>
<line x1="104" y1="286.3" x2="104" y2="391.3" stroke="#c4c4c4" stroke-width="1"/>
<line x1="116" y1="286.3" x2="116" y2="391.3" stroke="#c4c4c4" stroke-width="1"/>
<line x1="128" y1="286.3" x2="128" y2="391.3" stroke="#c4c4c4" stroke-width="1"/>
<line x1="139.9" y1="286.3" x2="139.9" y2="391.3" stroke="#c4c4c4" stroke-width="1"/>
<line x1="151" y1="286.3" x2="151" y2="391.3" stroke="#c4c4c4" stroke-width="1"/>
<line x1="163.4" y1="286.3" x2="163.4" y2="391.3" stroke="#c4c4c4" stroke-width="1"/>
<line x1="175.4" y1="286.3" x2="175.4" y2="391.3" stroke="#c4c4c4" stroke-width="1"/>
<line x1="187.3" y1="286.3" x2="187.3" y2="391.3" stroke="#c4c4c4" stroke-width="1"/>
<line x1="199.3" y1="286.3" x2="199.3" y2="391.3" stroke="#c4c4c4" stroke-width="1"/>
<line x1="211.7" y1="286.3" x2="211.7" y2="391.3" stroke="#c4c4c4" stroke-width="1"/>
<line x1="223.6" y1="286.3" x2="223.6" y2="391.3" stroke="#c4c4c4" stroke-width="1"/>
<line x1="235.1" y1="286.3" x2="235.1" y2="391.3" stroke="#c4c4c4" stroke-width="1"/>
<line x1="247.1" y1="286.3" x2="247.1" y2="391.3" stroke="#c4c4c4" stroke-width="1"/>
<line x1="259.3" y1="286.3" x2="259.3" y2="391.3" stroke="#c4c4c4" stroke-width="1"/>
<polyline points="28.5,336.2 72,336.2 73,333.8 79,333.8 80,335.6 86,337 92,336.2 98,335.6 104,335 109,333.8 115,335.6 121,336.7 127,338.5 132,339 137,338.5 140,336.2 146,335 150,336.4 156,336.8 161,337.6 167,335.2 173,334.7 179,335.2 185,336.4 191,335.2 196,335.8 202,335.4 214,334.2 227,336 239,335.4 252,336 264.2,336.6" fill="none" stroke="#c9f6ee" stroke-opacity="0.5" stroke-width="14.2" stroke-linejoin="round"/>
<polyline points="28.6,337 28.6,337.9 29.7,342.6 30.9,339.1 32.1,341.4 33.2,337.9 34.4,344.9 35.6,337.9 36.45,335.72 37.3,333.3 38.5,330.9 39.6,334.4 40.5,333.49 41.4,332.1 42.5,333.3 43.7,341.4 44.3,334.4 45.45,334.15 46.6,333.3 47.45,332.54 48.3,330.9 49.1,331.74 49.9,332.52 50.7,332.7 51.8,335.6 53,343.7 54.2,344.9 55.3,337.9 56.2,339.78 57.1,342.6 58.2,340.2 59.4,337.9 60.25,337.27 61.1,336.7 62,338.34 62.9,339.1 64,335 65.2,333.3 66.1,335.15 67,336.7 67.85,338.85 68.7,340.2 69.9,335.6 70.75,333.76 71.6,332.7 72.8,331.5 73.9,336.2 74.8,337.02 75.7,337.9 76.55,338.8 77.4,340.2 78.3,342.59 79.2,344.9 79.7,350.7 80.3,318.1 81.5,326.3 82.7,332.1 83.8,334.4 84.95,333.92 86.1,333.3 87.2,337.9 88.3,340.8 89.1,340.31 89.9,340.52 90.7,340.8 91.8,324 93,332.1 94.1,335.6 95.04,335.84 95.98,336.94 96.92,337.25 97.86,337.1 98.8,337.9 99.95,338.5 101.1,338.5 102,338.44 102.9,339.1 104,323.4 105.2,330.9 106.05,332.22 106.9,333.3 107.78,333.35 108.65,333.65 109.53,334.95 110.4,335 111.3,336.76 112.2,339.1 113.35,341.12 114.5,343.7 115.7,345.5 116.5,322.2 118,330.9 118.85,333.13 119.7,334.4 120.58,335.22 121.45,335.09 122.33,336.21 123.2,336.2 124.35,337.69 125.5,339.1 126.4,341.28 127.3,343.1 128.4,333.3 129,335.6 129.88,336.18 130.75,337.79 131.62,338.42 132.5,339.1 133.38,339.99 134.25,340.34 135.12,340.17 136,340.8 136.97,340.86 137.93,340.87 138.9,341.4 140.3,321.6 141.8,330.9 142.95,332.3 144.1,334.4 145.2,333.52 146.3,333.5 147.18,334.6 148.05,336.2 148.93,336.9 149.8,338.7 151,342.2 151.6,320.1 152.7,323.6 153.3,344.5 154.5,328.3 155,324.8 156.2,339.9 157.4,336.4 158.5,338.7 159.4,339.48 160.3,339.9 161.15,340.89 162,342.2 163.2,346.9 164.3,309.1 165.5,325.9 166.7,330.6 167.55,332.16 168.4,334.1 169.3,334.97 170.2,335.2 171.05,337.53 171.9,339.9 173.1,345.7 174.2,342.2 175.4,346.9 176.6,335.8 177.75,335.32 178.9,335.2 179.82,335.3 180.74,335.64 181.66,335.12 182.58,336.16 183.5,335.8 184.38,336.35 185.25,338.1 186.12,339.22 187,339.9 188.2,335.2 189.07,334.14 189.95,334.34 190.82,333.34 191.7,332.9 192.55,333.88 193.4,334.7 194.55,335.66 195.7,337.6 196.6,338.85 197.5,341 198.65,337.78 199.8,335.2 200.95,334.81 202.1,333.5 203,332 203.9,331.1 204.8,333.81 205.7,336 206.53,337.66 207.37,338.91 208.2,339.7 209.03,341.21 209.87,342.89 210.7,344.7 211.6,335.42 212.5,326.1 213.8,329.8 214.7,331.33 215.6,332.3 216.63,332.94 217.67,334.62 218.7,335.4 219.65,337.25 220.6,338.5 221.55,340.71 222.5,342.2 223.7,339.7 224.65,337.39 225.6,336 226.5,337.7 227.4,338.5 228.7,334.8 229.53,336.02 230.37,337.91 231.2,339.7 232.1,335.51 233,331.1 234.3,334.8 235.5,345.9 236.7,333.5 238,338.5 239.2,341 240.15,335.82 241.1,329.8 242,330.89 242.9,332.3 243.85,333.97 244.8,334.8 245.75,338.55 246.7,342.2 247.3,359.6 247.9,316.2 249.1,324.9 250.05,327.16 251,329.8 251.95,330.87 252.9,332.3 253.8,333.23 254.7,334.8 255.65,338.08 256.6,342.2 257.8,344.7 259.1,322.4 260.3,337.3 261.6,344.7 262.2,327.3 262.8,347.2 263.4,329.8 264,337.3" fill="none" stroke="#3a160a" stroke-width="1.4" stroke-linejoin="round"/>
<polyline points="28.5,336.2 72,336.2 73,333.8 79,333.8 80,335.6 86,337 92,336.2 98,335.6 104,335 109,333.8 115,335.6 121,336.7 127,338.5 132,339 137,338.5 140,336.2 146,335 150,336.4 156,336.8 161,337.6 167,335.2 173,334.7 179,335.2 185,336.4 191,335.2 196,335.8 202,335.4 214,334.2 227,336 239,335.4 252,336 264.2,336.6" fill="none" stroke="#86a2f0" stroke-width="4.6" stroke-linejoin="round"/>
<polyline points="28.5,336.2 72,336.2 73,333.8 79,333.8 80,335.6 86,337 92,336.2 98,335.6 104,335 109,333.8 115,335.6 121,336.7 127,338.5 132,339 137,338.5 140,336.2 146,335 150,336.4 156,336.8 161,337.6 167,335.2 173,334.7 179,335.2 185,336.4 191,335.2 196,335.8 202,335.4 214,334.2 227,336 239,335.4 252,336 264.2,336.6" fill="none" stroke="#4a5fe0" stroke-width="2.6" stroke-linejoin="round"/>
<rect x="32.1" y="364.6" width="80.6" height="22.9" rx="1.6" fill="#fff" fill-opacity="0.8" stroke="#9a9a9a" stroke-width="0.8"/>
<line x1="35.1" y1="370.4" x2="49.9" y2="370.4" stroke="#9a8272" stroke-width="1.05"/>
<line x1="35.1" y1="381.2" x2="49.9" y2="381.2" stroke="#b3bcef" stroke-width="1.2"/>
<rect x="28.5" y="286.3" width="235.7" height="105" fill="none" stroke="#111111" stroke-width="0.9"/>
<line x1="28.5" y1="391.3" x2="28.5" y2="393.8" stroke="#111111" stroke-width="0.9"/>
<line x1="58.04" y1="391.3" x2="58.04" y2="393.8" stroke="#111111" stroke-width="0.9"/>
<line x1="87.58" y1="391.3" x2="87.58" y2="393.8" stroke="#111111" stroke-width="0.9"/>
<line x1="117.12" y1="391.3" x2="117.12" y2="393.8" stroke="#111111" stroke-width="0.9"/>
<line x1="146.66" y1="391.3" x2="146.66" y2="393.8" stroke="#111111" stroke-width="0.9"/>
<line x1="176.2" y1="391.3" x2="176.2" y2="393.8" stroke="#111111" stroke-width="0.9"/>
<line x1="205.74" y1="391.3" x2="205.74" y2="393.8" stroke="#111111" stroke-width="0.9"/>
<line x1="235.28" y1="391.3" x2="235.28" y2="393.8" stroke="#111111" stroke-width="0.9"/>
<line x1="25.9" y1="391.3" x2="28.5" y2="391.3" stroke="#111111" stroke-width="0.9"/>
<line x1="25.9" y1="365.05" x2="28.5" y2="365.05" stroke="#111111" stroke-width="0.9"/>
<line x1="25.9" y1="338.8" x2="28.5" y2="338.8" stroke="#111111" stroke-width="0.9"/>
<line x1="25.9" y1="312.55" x2="28.5" y2="312.55" stroke="#111111" stroke-width="0.9"/>
<line x1="25.9" y1="286.3" x2="28.5" y2="286.3" stroke="#111111" stroke-width="0.9"/>
<line x1="283.5" y1="286.3" x2="283.5" y2="391.3" stroke="#c4c4c4" stroke-width="1"/>
<line x1="292.8" y1="286.3" x2="292.8" y2="391.3" stroke="#c4c4c4" stroke-width="1"/>
<line x1="297.3" y1="286.3" x2="297.3" y2="391.3" stroke="#c4c4c4" stroke-width="1"/>
<line x1="308" y1="286.3" x2="308" y2="391.3" stroke="#c4c4c4" stroke-width="1"/>
<line x1="314" y1="286.3" x2="314" y2="391.3" stroke="#c4c4c4" stroke-width="1"/>
<line x1="325" y1="286.3" x2="325" y2="391.3" stroke="#c4c4c4" stroke-width="1"/>
<line x1="337.3" y1="286.3" x2="337.3" y2="391.3" stroke="#c4c4c4" stroke-width="1"/>
<line x1="349.2" y1="286.3" x2="349.2" y2="391.3" stroke="#c4c4c4" stroke-width="1"/>
<line x1="361.2" y1="286.3" x2="361.2" y2="391.3" stroke="#c4c4c4" stroke-width="1"/>
<line x1="373.2" y1="286.3" x2="373.2" y2="391.3" stroke="#c4c4c4" stroke-width="1"/>
<line x1="385.1" y1="286.3" x2="385.1" y2="391.3" stroke="#c4c4c4" stroke-width="1"/>
<line x1="396.2" y1="286.3" x2="396.2" y2="391.3" stroke="#c4c4c4" stroke-width="1"/>
<line x1="408.6" y1="286.3" x2="408.6" y2="391.3" stroke="#c4c4c4" stroke-width="1"/>
<line x1="420.6" y1="286.3" x2="420.6" y2="391.3" stroke="#c4c4c4" stroke-width="1"/>
<line x1="432.5" y1="286.3" x2="432.5" y2="391.3" stroke="#c4c4c4" stroke-width="1"/>
<line x1="444.5" y1="286.3" x2="444.5" y2="391.3" stroke="#c4c4c4" stroke-width="1"/>
<line x1="456.9" y1="286.3" x2="456.9" y2="391.3" stroke="#c4c4c4" stroke-width="1"/>
<line x1="468.8" y1="286.3" x2="468.8" y2="391.3" stroke="#c4c4c4" stroke-width="1"/>
<line x1="480.3" y1="286.3" x2="480.3" y2="391.3" stroke="#c4c4c4" stroke-width="1"/>
<line x1="492.3" y1="286.3" x2="492.3" y2="391.3" stroke="#c4c4c4" stroke-width="1"/>
<line x1="504.5" y1="286.3" x2="504.5" y2="391.3" stroke="#c4c4c4" stroke-width="1"/>
<polyline points="273.7,339.5 320,339.6 325,340.6 500,340.2 509.4,339.3" fill="none" stroke="#c9f6ee" stroke-opacity="0.55" stroke-width="7.2" stroke-linejoin="round"/>
<polyline points="273.7,339.05 274.7,339.27 275.7,339.27 276.7,339.53 277.7,339.43 278.7,339.48 279.7,339.79 280,337.4 280.7,339.02 281.7,339.07 282.7,339.15 283.7,339.15 284.7,339.09 285.7,340 286.7,339.88 287.7,339.12 288.7,339.53 289.7,339.35 290.7,339.35 291.7,339.39 292.7,339.69 293.7,339.63 294.7,339.41 295.7,339.24 296.7,339.38 297.7,339.18 298.6,337.4 298.7,339.61 299.7,339.77 300.7,339.44 301.7,339.14 302.7,339.24 303.2,337.4 303.7,339.44 304.7,339.67 305.7,339.85 306.7,339.45 307.7,339.87 308.7,339.7 309.7,339.51 310.7,339.45 311.7,339.58 312.7,339.79 313.7,339.51 314.7,339.78 315.7,339.55 316.7,339.34 317.7,339.63 318.3,335.1 318.7,339.79 319.7,339.17 320.7,339.68 321.7,339.9 322.7,340.57 323.7,340.85 324.5,346 324.7,340.51 325.3,350.7 325.7,341.1 326.7,340.99 327.7,340.45 328,338.6 328.7,340.65 329.7,340.31 330.7,341 331.7,340.84 332.7,341.07 333,338.6 333.7,340.97 334.7,340.84 335.7,340.9 336.7,340.73 337.7,340.27 338,338.6 338.1,343.7 338.7,340.75 339.7,340.17 340.7,340.3 341.7,340.93 342.7,340.2 343.7,340.24 344.7,340.25 345.7,341.02 346.7,340.32 347.7,340.16 348.7,340.98 349.7,340.25 349.7,344.9 350.7,340.97 351.7,340.8 352.7,340.96 353.2,338.4 353.7,341.07 354.7,340.7 355.6,338.4 355.7,340.92 356.7,340.15 357.7,340.88 358.7,340.62 359.7,340.82 360.7,340.21 360.9,346 361.7,340.85 362.7,341.03 363.7,340.16 364.7,340.42 365,338.4 365.7,340.65 366.7,340.91 367.7,340.33 368,338.4 368.7,340.26 369.7,340.33 370.7,340.69 371.7,340.83 372.7,340.46 373,344.9 373.7,340.44 374.7,340.46 375.7,340.41 376.7,340.48 377.7,340.14 378.7,340.55 379.7,341.02 380.7,340.46 381.7,340.79 382.7,340.2 383.7,340.73 384.7,340.79 385.7,340.71 385.9,347.2 386.7,340.55 387.7,340.51 388.7,340.67 389.7,340.92 390.7,340.17 391.7,340.12 392.7,340.76 393.7,340.93 394.7,340.53 395.7,340.45 396.7,340.72 397,344.9 397.7,340.19 398.7,340.27 399.3,337.9 399.7,340.2 400.7,340.58 401.7,340.31 402.7,340.22 403.7,340.68 404.7,340.94 405.7,340.28 406.7,340.68 407.7,340.39 408.7,340.83 409.7,340.55 409.8,353 410.7,340.23 411.7,340.18 412,337.9 412.7,339.99 413.7,340.44 414.7,340.34 415.7,340.13 416.7,340.31 417.7,340.27 418.7,340.72 419.7,340.09 420.2,343.7 420.7,340.93 421.7,340.42 422.7,340.53 423.7,340.4 424.7,340.76 425.7,340.75 426.7,340.48 427.7,340.4 428.7,340.64 429.7,340.77 430.7,340.31 431.7,340.64 432.7,340.87 433.7,340.37 434.7,340.13 435.7,340.13 436.7,340.61 437.7,340.57 438.7,340.85 438.8,337.9 439.7,340.74 440.7,340.13 441.7,340.07 442.7,340.14 443.7,340.07 444.7,340.58 445.7,340.73 445.8,347.2 446.7,340.77 447.7,340.12 448.7,340.73 449.7,340.18 450.7,340.28 451.7,340.59 452.7,339.94 452.8,334.4 453.7,339.94 454.7,340.68 455,342.6 455.7,340.14 456.7,340.2 457.7,340.42 458.7,340.51 459.7,339.84 460.7,340.17 461.7,340.27 462.7,340.31 463.7,340.03 464.7,340.41 465.7,340.77 466.7,340.21 467.7,340.36 468.7,339.93 469,336.7 469.7,340.08 470.7,340.47 471.7,339.91 472.7,340.69 473.7,340.71 474.7,339.89 475.7,340.73 476.7,340.16 477.7,340.56 478.4,334.4 478.7,340.54 479.7,340.08 480.7,340.45 480.7,343.7 481.7,340.43 482.7,340.58 483.7,340.04 484.7,340.52 485.7,340.73 486.7,340.43 487.7,340.3 488.7,339.1 489.7,340.24 490.7,339.81 491.2,341.4 491.7,340.9 492.3,358.8 492.7,340.78 493.5,335.6 493.7,340.44 494.7,339.29 495.7,340.67 496.7,340.63 497.7,339.27 498.1,333.3 498.7,341.4 499.7,340.69 500.7,339.09 501.6,343.7 501.7,341.52 502.7,339.14 503.7,339.71 504,324 504.7,340.87 505.1,344.9 505.7,340.5 506.3,330.9 506.7,340.37 507.5,349.5 507.7,340.65 508.6,335.6 508.7,340.08" fill="none" stroke="#3a160a" stroke-width="1.4" stroke-linejoin="round"/>
<polyline points="273.7,339.5 320,339.6 325,340.6 500,340.2 509.4,339.3" fill="none" stroke="#5c68d8" stroke-width="2.2" stroke-linejoin="round"/>
<rect x="277.3" y="364.6" width="80.6" height="22.9" rx="1.6" fill="#fff" fill-opacity="0.8" stroke="#9a9a9a" stroke-width="0.8"/>
<line x1="280.3" y1="370.4" x2="295.1" y2="370.4" stroke="#9a8272" stroke-width="1.05"/>
<line x1="280.3" y1="381.2" x2="295.1" y2="381.2" stroke="#b3bcef" stroke-width="1.2"/>
<rect x="273.7" y="286.3" width="235.7" height="105" fill="none" stroke="#111111" stroke-width="0.9"/>
<line x1="273.7" y1="391.3" x2="273.7" y2="393.8" stroke="#111111" stroke-width="0.9"/>
<line x1="303.24" y1="391.3" x2="303.24" y2="393.8" stroke="#111111" stroke-width="0.9"/>
<line x1="332.78" y1="391.3" x2="332.78" y2="393.8" stroke="#111111" stroke-width="0.9"/>
<line x1="362.32" y1="391.3" x2="362.32" y2="393.8" stroke="#111111" stroke-width="0.9"/>
<line x1="391.86" y1="391.3" x2="391.86" y2="393.8" stroke="#111111" stroke-width="0.9"/>
<line x1="421.4" y1="391.3" x2="421.4" y2="393.8" stroke="#111111" stroke-width="0.9"/>
<line x1="450.94" y1="391.3" x2="450.94" y2="393.8" stroke="#111111" stroke-width="0.9"/>
<line x1="480.48" y1="391.3" x2="480.48" y2="393.8" stroke="#111111" stroke-width="0.9"/>
<line x1="271.1" y1="391.3" x2="273.7" y2="391.3" stroke="#111111" stroke-width="0.9"/>
<line x1="271.1" y1="365.05" x2="273.7" y2="365.05" stroke="#111111" stroke-width="0.9"/>
<line x1="271.1" y1="338.8" x2="273.7" y2="338.8" stroke="#111111" stroke-width="0.9"/>
<line x1="271.1" y1="312.55" x2="273.7" y2="312.55" stroke="#111111" stroke-width="0.9"/>
<line x1="271.1" y1="286.3" x2="273.7" y2="286.3" stroke="#111111" stroke-width="0.9"/>
<line x1="38.3" y1="421.3" x2="38.3" y2="526.3" stroke="#c4c4c4" stroke-width="1"/>
<line x1="47.6" y1="421.3" x2="47.6" y2="526.3" stroke="#c4c4c4" stroke-width="1"/>
<line x1="52.1" y1="421.3" x2="52.1" y2="526.3" stroke="#c4c4c4" stroke-width="1"/>
<line x1="62.8" y1="421.3" x2="62.8" y2="526.3" stroke="#c4c4c4" stroke-width="1"/>
<line x1="68.8" y1="421.3" x2="68.8" y2="526.3" stroke="#c4c4c4" stroke-width="1"/>
<line x1="79.8" y1="421.3" x2="79.8" y2="526.3" stroke="#c4c4c4" stroke-width="1"/>
<line x1="92.1" y1="421.3" x2="92.1" y2="526.3" stroke="#c4c4c4" stroke-width="1"/>
<line x1="104" y1="421.3" x2="104" y2="526.3" stroke="#c4c4c4" stroke-width="1"/>
<line x1="116" y1="421.3" x2="116" y2="526.3" stroke="#c4c4c4" stroke-width="1"/>
<line x1="128" y1="421.3" x2="128" y2="526.3" stroke="#c4c4c4" stroke-width="1"/>
<line x1="139.9" y1="421.3" x2="139.9" y2="526.3" stroke="#c4c4c4" stroke-width="1"/>
<line x1="151" y1="421.3" x2="151" y2="526.3" stroke="#c4c4c4" stroke-width="1"/>
<line x1="163.4" y1="421.3" x2="163.4" y2="526.3" stroke="#c4c4c4" stroke-width="1"/>
<line x1="175.4" y1="421.3" x2="175.4" y2="526.3" stroke="#c4c4c4" stroke-width="1"/>
<line x1="187.3" y1="421.3" x2="187.3" y2="526.3" stroke="#c4c4c4" stroke-width="1"/>
<line x1="199.3" y1="421.3" x2="199.3" y2="526.3" stroke="#c4c4c4" stroke-width="1"/>
<line x1="211.7" y1="421.3" x2="211.7" y2="526.3" stroke="#c4c4c4" stroke-width="1"/>
<line x1="223.6" y1="421.3" x2="223.6" y2="526.3" stroke="#c4c4c4" stroke-width="1"/>
<line x1="235.1" y1="421.3" x2="235.1" y2="526.3" stroke="#c4c4c4" stroke-width="1"/>
<line x1="247.1" y1="421.3" x2="247.1" y2="526.3" stroke="#c4c4c4" stroke-width="1"/>
<line x1="259.3" y1="421.3" x2="259.3" y2="526.3" stroke="#c4c4c4" stroke-width="1"/>
<polyline points="28.5,473.6 75,473.6 78,474.3 264.2,474.5" fill="none" stroke="#c9f6ee" stroke-opacity="0.55" stroke-width="7.2" stroke-linejoin="round"/>
<polyline points="28.5,473.47 30,473.37 31.5,473.3 33,473.75 34.5,473.78 36,473.63 37.5,473.77 39,473.5 40.5,473.44 42,473.52 43.5,473.86 45,473.28 46.5,473.6 48,473.42 49.5,473.79 51,473.5 52.5,473.48 54,473.53 55.5,473.63 57,473.79 58.5,473.5 60,473.84 61.5,473.33 63,473.44 64.5,473.32 66,473.33 67.5,473.8 69,473.76 70.5,473.38 72,473.38 73.5,473.54 75,473.77 76.5,474.17 76.8,477.6 78,474.47 79.5,474.37 80.3,469.4 81,474.06 82,474.6 82.5,474.23 84,474.09 85.5,474.33 87,474.36 88.5,474.1 90,474.14 90.8,472.9 91.5,474.51 93,473.99 93.1,469.4 94.5,474.53 96,474.59 97.5,474.64 99,474.24 100.5,474.36 102,474.38 103.5,474.42 103.6,470.6 105,474.66 106.5,474.46 108,474.19 109.5,474.59 111,474.32 112.5,474.41 114,474.5 114,478.7 115.5,473.99 116.4,478.7 117,474.53 118.5,474.46 120,474.34 121.5,474.36 123,474.32 124.5,474.14 126,474.37 126.8,478.7 127.5,474.03 128,472.4 129,474.36 130.5,474.46 132,474.32 133.5,474.41 135,474.68 136.5,474.64 138,474.11 139.5,474.57 139.6,470.1 141,474.45 142.5,474.05 144,474.27 145.5,474.19 147,474.08 148.5,474.4 150,474.68 150.7,477.6 151.5,474.26 151.8,470.6 153,474.64 154.5,474.52 156,474.13 157.5,474.64 159,474.46 160.5,474.69 162,474.54 162.7,478.7 163.4,470.1 163.5,474.56 165,474.28 166.5,474.61 168,474.7 169.5,474.65 171,474.36 172.5,474.58 174,474.39 175.1,479.9 175.5,474.13 177,474.09 178.5,474.11 180,474.2 181.5,474.17 183,474.41 184.5,474.55 186,474.44 187.5,474.36 189,474.52 190.5,474.28 191.3,472 192,474.4 193.5,474.6 195,474.36 196.5,474.2 198,474.71 199.5,474.58 200.7,471.7 201,474.34 202.5,474.34 204,474.46 205.5,474.5 207,474.25 208.5,474.09 210,474.24 211,478.7 211.5,474.64 212.3,470.6 213,474.2 214.5,474.42 216,474.23 217.5,474.25 219,474.22 220.5,474.39 222,474.22 222.7,478.7 223.5,474.13 225,474.18 226.5,474.23 228,474.45 229.5,474.15 231,474.13 232.5,474.43 234,474.4 235.5,474.61 237,474.16 238.5,474.4 240,474.4 241.5,474.14 243,474.8 244.5,474.28 246,474.2 246.5,478.7 247.2,470.6 247.5,474.46 249,474.25 250.5,474.57 252,474.38 253.5,474.23 255,474.18 256.5,474.65 257.6,478.7 258,474.34 259.5,474.7 261,474.47 262.5,474.8 263.4,472.9 264,474.36" fill="none" stroke="#3a160a" stroke-width="1.4" stroke-linejoin="round"/>
<polyline points="28.5,473.6 75,473.6 78,474.3 264.2,474.5" fill="none" stroke="#5c68d8" stroke-width="2.2" stroke-linejoin="round"/>
<rect x="32.1" y="499.6" width="80.6" height="22.9" rx="1.6" fill="#fff" fill-opacity="0.8" stroke="#9a9a9a" stroke-width="0.8"/>
<line x1="35.1" y1="505.4" x2="49.9" y2="505.4" stroke="#9a8272" stroke-width="1.05"/>
<line x1="35.1" y1="516.2" x2="49.9" y2="516.2" stroke="#b3bcef" stroke-width="1.2"/>
<rect x="28.5" y="421.3" width="235.7" height="105" fill="none" stroke="#111111" stroke-width="0.9"/>
<line x1="28.5" y1="526.3" x2="28.5" y2="528.8" stroke="#111111" stroke-width="0.9"/>
<line x1="58.04" y1="526.3" x2="58.04" y2="528.8" stroke="#111111" stroke-width="0.9"/>
<line x1="87.58" y1="526.3" x2="87.58" y2="528.8" stroke="#111111" stroke-width="0.9"/>
<line x1="117.12" y1="526.3" x2="117.12" y2="528.8" stroke="#111111" stroke-width="0.9"/>
<line x1="146.66" y1="526.3" x2="146.66" y2="528.8" stroke="#111111" stroke-width="0.9"/>
<line x1="176.2" y1="526.3" x2="176.2" y2="528.8" stroke="#111111" stroke-width="0.9"/>
<line x1="205.74" y1="526.3" x2="205.74" y2="528.8" stroke="#111111" stroke-width="0.9"/>
<line x1="235.28" y1="526.3" x2="235.28" y2="528.8" stroke="#111111" stroke-width="0.9"/>
<line x1="25.9" y1="526.3" x2="28.5" y2="526.3" stroke="#111111" stroke-width="0.9"/>
<line x1="25.9" y1="500.05" x2="28.5" y2="500.05" stroke="#111111" stroke-width="0.9"/>
<line x1="25.9" y1="473.8" x2="28.5" y2="473.8" stroke="#111111" stroke-width="0.9"/>
<line x1="25.9" y1="447.55" x2="28.5" y2="447.55" stroke="#111111" stroke-width="0.9"/>
<line x1="25.9" y1="421.3" x2="28.5" y2="421.3" stroke="#111111" stroke-width="0.9"/>
</g>
<clipPath id="gc0"><rect x="28" y="80" width="194" height="8"/></clipPath>
<g clip-path="url(#gc0)">
<polyline transform="translate(0,84) scale(1,0.22) translate(0,-56)" points="28.5,66.6 29.62,66.5 30.75,66.56 31.88,66.87 33,66.4 34,66.53 35,66.73 36,66.97 37,66.72 38,67.2 39,67.54 40,67.98 41,68.47 42,68.5 43,67.84 44,67.8 45,67.34 46,67.5 47,67.56 48,67.19 49,66.29 50,66.5 51,67.24 52,67.48 53,67.43 54,67.66 55,67.8 56,67.26 57,66.92 58,67.23 59,66.56 60,66.8 61,66.67 62,66.89 63,66.86 64,67.5 65,67.34 66,67.19 67,67.47 68,67 69,67.77 70,68.5 71.4,71 72.3,58 73.1,46.4 75,45.8 76,47.29 77,48.5 78.5,58 80,70 81,62 82.4,48.5 83.47,47.8 84.53,47.26 85.6,46.4 86.95,48.66 88.3,51 89.75,53.38 91.2,56.2 92.4,55.25 93.6,53.3 94.75,53.8 95.9,53.3 97.35,55.09 98.8,56.2 99.95,57.86 101.1,59.1 102.25,60.67 103.4,62.6 105.2,54.4 106.35,49.48 107.5,45.1 108.95,44.34 110.4,44 111.55,44.72 112.7,46.3 113.7,48.1 114.7,49.27 115.7,50.9 117.15,49.25 118.6,46.9 119.75,45.89 120.9,45.1 122.07,45.56 123.23,45.45 124.4,45.1 125.55,45.75 126.7,47.4 128.4,64.9 129.6,65.16 130.8,66 131.95,67.01 133.1,67.2 134.8,70.1 136,71.52 137.2,73 138.35,75.83 139.5,77.7 140.7,64.9 142.4,45.1 144.1,42.8 146,48 147.35,52.85 148.7,57.9 149.85,55.17 151,53.3 152.15,55.13 153.3,56.7 154.45,57.58 155.6,57.9 156.77,57.67 157.93,57.49 159.1,57.9 160.25,58.33 161.4,59.1 162.6,59.56 163.8,59.1 164.95,57.61 166.1,55.6 167.55,52.87 169,50.9 170.45,50.35 171.9,50.3 173.05,49.65 174.2,49.8 176,63.7 177.7,64.9 178.85,60.36 180,56.7 181.2,58.75 182.4,60.2 183.55,62.23 184.7,64.9 185.85,64.96 187,64.9 188.15,60.75 189.3,56.7 190.5,54.69 191.7,53.3 192.85,52.63 194,51.5 195.15,52.03 196.3,53.3 197.5,54.59 198.7,55.6 200.4,63.7 202.1,55.5 203.5,52.82 204.9,50.9 206.35,51.57 207.8,52.4 209.25,53.56 210.7,55.3 211.8,52.87 212.9,50.9 214.35,47.02 215.8,42.2 216.9,41.75 218,40.7 219.45,43.4 220.9,46.5 222,53.43 223.1,59.6 224.5,69.8 225.6,62.96 226.7,56.7 228.15,53.69 229.6,50.9 230.7,52 231.8,52.4 232.9,56.14 234,59.6 235.1,59.95 236.2,61.1 237.3,57.94 238.4,53.8 239.85,50.61 241.3,48 242.75,49.96 244.2,52.4 245.3,54.12 246.4,55.3 247.45,52.23 248.5,49.5 249.5,48.8 250.5,48.07 251.5,48 252.95,46.84 254.4,46.5 255.85,47.33 257.3,48 258.4,52.09 259.5,56.7 260.9,64 262.4,65.5 264.2,64" fill="none" stroke="#86f4ea" stroke-opacity="0.3" stroke-width="5" vector-effect="non-scaling-stroke"/>
<polyline transform="translate(0,84) scale(1,0.22) translate(0,-56)" points="28.5,67 29.4,67.38 30.3,68.4 31.5,78.8 32.7,72 33.8,59.1 35,56.7 35.8,57 37,76.5 38.2,58 39.1,56.87 40,57 41,58.27 42,59 43,56 44.3,70.7 45.4,62 46.6,57.9 47.37,56.36 48.13,56.43 48.9,55.6 49.7,54.19 50.5,52.47 51.3,52.1 52.4,81.2 53.6,59.1 54.55,59.06 55.5,59 56.5,78.8 57.6,57.9 58.5,67.52 59.4,78.8 60.6,59.1 61.45,66.53 62.3,74.2 63.15,65.28 64,57.9 64.9,57.16 65.8,57.9 66.65,60.11 67.5,62.6 68.4,70.14 69.3,76.5 70.4,62.6 71.2,54.56 72,47.37 72.8,40.5 73.9,42.8 75.1,53.3 75.95,56.98 76.8,60.2 77.7,65.11 78.6,68.4 79.45,62.69 80.3,56.7 81.2,48.41 82.1,40.5 82.95,40.46 83.8,38.7 84.65,38.78 85.5,40.5 86.7,50.9 87.5,57.4 88.3,62.6 88.9,82.9 89.8,82.52 90.7,82.9 91.2,56.7 91.92,54.91 92.65,53.71 93.38,52.91 94.1,52.1 95.3,42.8 96.5,45.1 97.6,53.3 98.4,57.74 99.2,60.46 100,64.9 100.77,68.15 101.53,71.35 102.3,74.2 103.15,68.17 104,62.6 104.9,58.04 105.8,53.3 106.65,43.76 107.5,35.8 108.7,38.1 109.42,39.06 110.15,41.07 110.88,43.67 111.6,45.1 112.32,47.02 113.05,48.87 113.78,51.4 114.5,53.3 115.7,61.4 116.8,53.3 117.57,47.98 118.33,42.47 119.1,37.6 120,38.68 120.9,38.7 121.67,39.66 122.43,39.44 123.2,40.5 123.97,43.73 124.73,46.75 125.5,49.8 126.7,56.7 127.55,61.48 128.4,64.9 129.3,67.06 130.2,68.4 130.97,67.22 131.73,67.66 132.5,66 133.27,67.28 134.03,69.79 134.8,71.9 135.6,73.13 136.4,72.81 137.2,74.2 138.05,78.53 138.9,82.9 139.8,73.07 140.7,64.9 141.55,54.15 142.4,42.8 143,38.1 144.3,40.5 145.7,42.8 146.6,51.43 147.5,59.1 148.35,60.98 149.2,62.6 150.1,55.68 151,47.4 152.1,75.3 153,58.71 153.9,42.8 155,36.4 155.9,48.1 156.8,59.1 158,68.4 159.1,74.2 160,59.82 160.9,45.1 161.75,53.39 162.6,61.4 163.45,57.27 164.3,53.3 165.2,49.26 166.1,44 166.87,41.7 167.63,37.75 168.4,34.7 169.3,37.3 170.2,39.3 170.97,41.61 171.73,45.86 172.5,48.6 173.27,50.43 174.03,52.62 174.8,53.3 175.7,59.68 176.6,64.9 177.37,62.58 178.13,60.83 178.9,59.1 179.67,60.94 180.43,61.31 181.2,63.7 181.97,64.4 182.73,64.64 183.5,66 184.4,66.51 185.3,68.4 186.15,69.36 187,71.9 187.9,67.13 188.8,61.4 189.65,53.73 190.5,47.4 191.27,42.31 192.03,37.94 192.8,33.5 193.6,36.1 194.4,36.61 195.2,39.3 196.05,42.11 196.9,45.1 197.8,52.19 198.7,59.1 199.8,75.3 200.55,65.84 201.3,55 202.5,42.2 203.5,37.8 204.2,45.67 204.9,52.4 205.65,46.51 206.4,39.3 207.1,52.7 207.8,66.9 208.55,55.1 209.3,43.6 210.03,50.15 210.77,57.89 211.5,64 212.2,59.72 212.9,53.8 213.63,46.87 214.37,40.62 215.1,34.9 215.83,34.42 216.57,34.42 217.3,34.9 218.03,35.84 218.77,36.99 219.5,37.8 220.22,41.37 220.95,44.91 221.68,49.65 222.4,53.8 223.45,63.01 224.5,72.7 225.23,73.32 225.97,74.52 226.7,74.2 227.43,70.18 228.17,65.49 228.9,61.1 229.63,61.78 230.37,62.35 231.1,62.5 231.83,62.7 232.57,65.22 233.3,65.5 234.7,71.3 235.45,73.95 236.2,75.6 236.93,71.44 237.67,66.47 238.4,61.1 239.45,49.26 240.5,37.8 241.23,41.52 241.97,44.89 242.7,49.5 243.42,52.99 244.15,55.21 244.88,58.47 245.6,62.5 246.33,69.28 247.07,76.49 247.8,84.4 248.55,71.71 249.3,59.6 250.03,49.09 250.77,39.3 251.5,30.5 252.55,32.07 253.6,34.9 254.35,39.28 255.1,45.1 255.8,48.5 256.5,52.4 257.25,41.35 258,32 259,18.9 260.2,59.6 260.9,69.72 261.6,78.5 262.35,65.66 263.1,52.4 264.2,40" fill="none" stroke="#ffa6dc" stroke-opacity="0.3" stroke-width="2.6" vector-effect="non-scaling-stroke"/>
</g>
<clipPath id="gc1"><rect x="0" y="96" width="216" height="8"/></clipPath>
<g clip-path="url(#gc1)">
<polyline transform="translate(0,100) scale(1,0.22) translate(0,-56)" points="28.5,66.6 29.62,66.5 30.75,66.56 31.88,66.87 33,66.4 34,66.53 35,66.73 36,66.97 37,66.72 38,67.2 39,67.54 40,67.98 41,68.47 42,68.5 43,67.84 44,67.8 45,67.34 46,67.5 47,67.56 48,67.19 49,66.29 50,66.5 51,67.24 52,67.48 53,67.43 54,67.66 55,67.8 56,67.26 57,66.92 58,67.23 59,66.56 60,66.8 61,66.67 62,66.89 63,66.86 64,67.5 65,67.34 66,67.19 67,67.47 68,67 69,67.77 70,68.5 71.4,71 72.3,58 73.1,46.4 75,45.8 76,47.29 77,48.5 78.5,58 80,70 81,62 82.4,48.5 83.47,47.8 84.53,47.26 85.6,46.4 86.95,48.66 88.3,51 89.75,53.38 91.2,56.2 92.4,55.25 93.6,53.3 94.75,53.8 95.9,53.3 97.35,55.09 98.8,56.2 99.95,57.86 101.1,59.1 102.25,60.67 103.4,62.6 105.2,54.4 106.35,49.48 107.5,45.1 108.95,44.34 110.4,44 111.55,44.72 112.7,46.3 113.7,48.1 114.7,49.27 115.7,50.9 117.15,49.25 118.6,46.9 119.75,45.89 120.9,45.1 122.07,45.56 123.23,45.45 124.4,45.1 125.55,45.75 126.7,47.4 128.4,64.9 129.6,65.16 130.8,66 131.95,67.01 133.1,67.2 134.8,70.1 136,71.52 137.2,73 138.35,75.83 139.5,77.7 140.7,64.9 142.4,45.1 144.1,42.8 146,48 147.35,52.85 148.7,57.9 149.85,55.17 151,53.3 152.15,55.13 153.3,56.7 154.45,57.58 155.6,57.9 156.77,57.67 157.93,57.49 159.1,57.9 160.25,58.33 161.4,59.1 162.6,59.56 163.8,59.1 164.95,57.61 166.1,55.6 167.55,52.87 169,50.9 170.45,50.35 171.9,50.3 173.05,49.65 174.2,49.8 176,63.7 177.7,64.9 178.85,60.36 180,56.7 181.2,58.75 182.4,60.2 183.55,62.23 184.7,64.9 185.85,64.96 187,64.9 188.15,60.75 189.3,56.7 190.5,54.69 191.7,53.3 192.85,52.63 194,51.5 195.15,52.03 196.3,53.3 197.5,54.59 198.7,55.6 200.4,63.7 202.1,55.5 203.5,52.82 204.9,50.9 206.35,51.57 207.8,52.4 209.25,53.56 210.7,55.3 211.8,52.87 212.9,50.9 214.35,47.02 215.8,42.2 216.9,41.75 218,40.7 219.45,43.4 220.9,46.5 222,53.43 223.1,59.6 224.5,69.8 225.6,62.96 226.7,56.7 228.15,53.69 229.6,50.9 230.7,52 231.8,52.4 232.9,56.14 234,59.6 235.1,59.95 236.2,61.1 237.3,57.94 238.4,53.8 239.85,50.61 241.3,48 242.75,49.96 244.2,52.4 245.3,54.12 246.4,55.3 247.45,52.23 248.5,49.5 249.5,48.8 250.5,48.07 251.5,48 252.95,46.84 254.4,46.5 255.85,47.33 257.3,48 258.4,52.09 259.5,56.7 260.9,64 262.4,65.5 264.2,64" fill="none" stroke="#86f4ea" stroke-opacity="0.3" stroke-width="5" vector-effect="non-scaling-stroke"/>
<polyline transform="translate(0,100) scale(1,0.22) translate(0,-56)" points="28.5,67 29.4,67.38 30.3,68.4 31.5,78.8 32.7,72 33.8,59.1 35,56.7 35.8,57 37,76.5 38.2,58 39.1,56.87 40,57 41,58.27 42,59 43,56 44.3,70.7 45.4,62 46.6,57.9 47.37,56.36 48.13,56.43 48.9,55.6 49.7,54.19 50.5,52.47 51.3,52.1 52.4,81.2 53.6,59.1 54.55,59.06 55.5,59 56.5,78.8 57.6,57.9 58.5,67.52 59.4,78.8 60.6,59.1 61.45,66.53 62.3,74.2 63.15,65.28 64,57.9 64.9,57.16 65.8,57.9 66.65,60.11 67.5,62.6 68.4,70.14 69.3,76.5 70.4,62.6 71.2,54.56 72,47.37 72.8,40.5 73.9,42.8 75.1,53.3 75.95,56.98 76.8,60.2 77.7,65.11 78.6,68.4 79.45,62.69 80.3,56.7 81.2,48.41 82.1,40.5 82.95,40.46 83.8,38.7 84.65,38.78 85.5,40.5 86.7,50.9 87.5,57.4 88.3,62.6 88.9,82.9 89.8,82.52 90.7,82.9 91.2,56.7 91.92,54.91 92.65,53.71 93.38,52.91 94.1,52.1 95.3,42.8 96.5,45.1 97.6,53.3 98.4,57.74 99.2,60.46 100,64.9 100.77,68.15 101.53,71.35 102.3,74.2 103.15,68.17 104,62.6 104.9,58.04 105.8,53.3 106.65,43.76 107.5,35.8 108.7,38.1 109.42,39.06 110.15,41.07 110.88,43.67 111.6,45.1 112.32,47.02 113.05,48.87 113.78,51.4 114.5,53.3 115.7,61.4 116.8,53.3 117.57,47.98 118.33,42.47 119.1,37.6 120,38.68 120.9,38.7 121.67,39.66 122.43,39.44 123.2,40.5 123.97,43.73 124.73,46.75 125.5,49.8 126.7,56.7 127.55,61.48 128.4,64.9 129.3,67.06 130.2,68.4 130.97,67.22 131.73,67.66 132.5,66 133.27,67.28 134.03,69.79 134.8,71.9 135.6,73.13 136.4,72.81 137.2,74.2 138.05,78.53 138.9,82.9 139.8,73.07 140.7,64.9 141.55,54.15 142.4,42.8 143,38.1 144.3,40.5 145.7,42.8 146.6,51.43 147.5,59.1 148.35,60.98 149.2,62.6 150.1,55.68 151,47.4 152.1,75.3 153,58.71 153.9,42.8 155,36.4 155.9,48.1 156.8,59.1 158,68.4 159.1,74.2 160,59.82 160.9,45.1 161.75,53.39 162.6,61.4 163.45,57.27 164.3,53.3 165.2,49.26 166.1,44 166.87,41.7 167.63,37.75 168.4,34.7 169.3,37.3 170.2,39.3 170.97,41.61 171.73,45.86 172.5,48.6 173.27,50.43 174.03,52.62 174.8,53.3 175.7,59.68 176.6,64.9 177.37,62.58 178.13,60.83 178.9,59.1 179.67,60.94 180.43,61.31 181.2,63.7 181.97,64.4 182.73,64.64 183.5,66 184.4,66.51 185.3,68.4 186.15,69.36 187,71.9 187.9,67.13 188.8,61.4 189.65,53.73 190.5,47.4 191.27,42.31 192.03,37.94 192.8,33.5 193.6,36.1 194.4,36.61 195.2,39.3 196.05,42.11 196.9,45.1 197.8,52.19 198.7,59.1 199.8,75.3 200.55,65.84 201.3,55 202.5,42.2 203.5,37.8 204.2,45.67 204.9,52.4 205.65,46.51 206.4,39.3 207.1,52.7 207.8,66.9 208.55,55.1 209.3,43.6 210.03,50.15 210.77,57.89 211.5,64 212.2,59.72 212.9,53.8 213.63,46.87 214.37,40.62 215.1,34.9 215.83,34.42 216.57,34.42 217.3,34.9 218.03,35.84 218.77,36.99 219.5,37.8 220.22,41.37 220.95,44.91 221.68,49.65 222.4,53.8 223.45,63.01 224.5,72.7 225.23,73.32 225.97,74.52 226.7,74.2 227.43,70.18 228.17,65.49 228.9,61.1 229.63,61.78 230.37,62.35 231.1,62.5 231.83,62.7 232.57,65.22 233.3,65.5 234.7,71.3 235.45,73.95 236.2,75.6 236.93,71.44 237.67,66.47 238.4,61.1 239.45,49.26 240.5,37.8 241.23,41.52 241.97,44.89 242.7,49.5 243.42,52.99 244.15,55.21 244.88,58.47 245.6,62.5 246.33,69.28 247.07,76.49 247.8,84.4 248.55,71.71 249.3,59.6 250.03,49.09 250.77,39.3 251.5,30.5 252.55,32.07 253.6,34.9 254.35,39.28 255.1,45.1 255.8,48.5 256.5,52.4 257.25,41.35 258,32 259,18.9 260.2,59.6 260.9,69.72 261.6,78.5 262.35,65.66 263.1,52.4 264.2,40" fill="none" stroke="#ffa6dc" stroke-opacity="0.3" stroke-width="2.6" vector-effect="non-scaling-stroke"/>
</g>
<clipPath id="gc2"><rect x="0" y="112" width="212" height="8"/></clipPath>
<g clip-path="url(#gc2)">
<polyline transform="translate(0,116) scale(1,0.22) translate(0,-56)" points="28.5,66.6 29.62,66.5 30.75,66.56 31.88,66.87 33,66.4 34,66.53 35,66.73 36,66.97 37,66.72 38,67.2 39,67.54 40,67.98 41,68.47 42,68.5 43,67.84 44,67.8 45,67.34 46,67.5 47,67.56 48,67.19 49,66.29 50,66.5 51,67.24 52,67.48 53,67.43 54,67.66 55,67.8 56,67.26 57,66.92 58,67.23 59,66.56 60,66.8 61,66.67 62,66.89 63,66.86 64,67.5 65,67.34 66,67.19 67,67.47 68,67 69,67.77 70,68.5 71.4,71 72.3,58 73.1,46.4 75,45.8 76,47.29 77,48.5 78.5,58 80,70 81,62 82.4,48.5 83.47,47.8 84.53,47.26 85.6,46.4 86.95,48.66 88.3,51 89.75,53.38 91.2,56.2 92.4,55.25 93.6,53.3 94.75,53.8 95.9,53.3 97.35,55.09 98.8,56.2 99.95,57.86 101.1,59.1 102.25,60.67 103.4,62.6 105.2,54.4 106.35,49.48 107.5,45.1 108.95,44.34 110.4,44 111.55,44.72 112.7,46.3 113.7,48.1 114.7,49.27 115.7,50.9 117.15,49.25 118.6,46.9 119.75,45.89 120.9,45.1 122.07,45.56 123.23,45.45 124.4,45.1 125.55,45.75 126.7,47.4 128.4,64.9 129.6,65.16 130.8,66 131.95,67.01 133.1,67.2 134.8,70.1 136,71.52 137.2,73 138.35,75.83 139.5,77.7 140.7,64.9 142.4,45.1 144.1,42.8 146,48 147.35,52.85 148.7,57.9 149.85,55.17 151,53.3 152.15,55.13 153.3,56.7 154.45,57.58 155.6,57.9 156.77,57.67 157.93,57.49 159.1,57.9 160.25,58.33 161.4,59.1 162.6,59.56 163.8,59.1 164.95,57.61 166.1,55.6 167.55,52.87 169,50.9 170.45,50.35 171.9,50.3 173.05,49.65 174.2,49.8 176,63.7 177.7,64.9 178.85,60.36 180,56.7 181.2,58.75 182.4,60.2 183.55,62.23 184.7,64.9 185.85,64.96 187,64.9 188.15,60.75 189.3,56.7 190.5,54.69 191.7,53.3 192.85,52.63 194,51.5 195.15,52.03 196.3,53.3 197.5,54.59 198.7,55.6 200.4,63.7 202.1,55.5 203.5,52.82 204.9,50.9 206.35,51.57 207.8,52.4 209.25,53.56 210.7,55.3 211.8,52.87 212.9,50.9 214.35,47.02 215.8,42.2 216.9,41.75 218,40.7 219.45,43.4 220.9,46.5 222,53.43 223.1,59.6 224.5,69.8 225.6,62.96 226.7,56.7 228.15,53.69 229.6,50.9 230.7,52 231.8,52.4 232.9,56.14 234,59.6 235.1,59.95 236.2,61.1 237.3,57.94 238.4,53.8 239.85,50.61 241.3,48 242.75,49.96 244.2,52.4 245.3,54.12 246.4,55.3 247.45,52.23 248.5,49.5 249.5,48.8 250.5,48.07 251.5,48 252.95,46.84 254.4,46.5 255.85,47.33 257.3,48 258.4,52.09 259.5,56.7 260.9,64 262.4,65.5 264.2,64" fill="none" stroke="#86f4ea" stroke-opacity="0.3" stroke-width="5" vector-effect="non-scaling-stroke"/>
<polyline transform="translate(0,116) scale(1,0.22) translate(0,-56)" points="28.5,67 29.4,67.38 30.3,68.4 31.5,78.8 32.7,72 33.8,59.1 35,56.7 35.8,57 37,76.5 38.2,58 39.1,56.87 40,57 41,58.27 42,59 43,56 44.3,70.7 45.4,62 46.6,57.9 47.37,56.36 48.13,56.43 48.9,55.6 49.7,54.19 50.5,52.47 51.3,52.1 52.4,81.2 53.6,59.1 54.55,59.06 55.5,59 56.5,78.8 57.6,57.9 58.5,67.52 59.4,78.8 60.6,59.1 61.45,66.53 62.3,74.2 63.15,65.28 64,57.9 64.9,57.16 65.8,57.9 66.65,60.11 67.5,62.6 68.4,70.14 69.3,76.5 70.4,62.6 71.2,54.56 72,47.37 72.8,40.5 73.9,42.8 75.1,53.3 75.95,56.98 76.8,60.2 77.7,65.11 78.6,68.4 79.45,62.69 80.3,56.7 81.2,48.41 82.1,40.5 82.95,40.46 83.8,38.7 84.65,38.78 85.5,40.5 86.7,50.9 87.5,57.4 88.3,62.6 88.9,82.9 89.8,82.52 90.7,82.9 91.2,56.7 91.92,54.91 92.65,53.71 93.38,52.91 94.1,52.1 95.3,42.8 96.5,45.1 97.6,53.3 98.4,57.74 99.2,60.46 100,64.9 100.77,68.15 101.53,71.35 102.3,74.2 103.15,68.17 104,62.6 104.9,58.04 105.8,53.3 106.65,43.76 107.5,35.8 108.7,38.1 109.42,39.06 110.15,41.07 110.88,43.67 111.6,45.1 112.32,47.02 113.05,48.87 113.78,51.4 114.5,53.3 115.7,61.4 116.8,53.3 117.57,47.98 118.33,42.47 119.1,37.6 120,38.68 120.9,38.7 121.67,39.66 122.43,39.44 123.2,40.5 123.97,43.73 124.73,46.75 125.5,49.8 126.7,56.7 127.55,61.48 128.4,64.9 129.3,67.06 130.2,68.4 130.97,67.22 131.73,67.66 132.5,66 133.27,67.28 134.03,69.79 134.8,71.9 135.6,73.13 136.4,72.81 137.2,74.2 138.05,78.53 138.9,82.9 139.8,73.07 140.7,64.9 141.55,54.15 142.4,42.8 143,38.1 144.3,40.5 145.7,42.8 146.6,51.43 147.5,59.1 148.35,60.98 149.2,62.6 150.1,55.68 151,47.4 152.1,75.3 153,58.71 153.9,42.8 155,36.4 155.9,48.1 156.8,59.1 158,68.4 159.1,74.2 160,59.82 160.9,45.1 161.75,53.39 162.6,61.4 163.45,57.27 164.3,53.3 165.2,49.26 166.1,44 166.87,41.7 167.63,37.75 168.4,34.7 169.3,37.3 170.2,39.3 170.97,41.61 171.73,45.86 172.5,48.6 173.27,50.43 174.03,52.62 174.8,53.3 175.7,59.68 176.6,64.9 177.37,62.58 178.13,60.83 178.9,59.1 179.67,60.94 180.43,61.31 181.2,63.7 181.97,64.4 182.73,64.64 183.5,66 184.4,66.51 185.3,68.4 186.15,69.36 187,71.9 187.9,67.13 188.8,61.4 189.65,53.73 190.5,47.4 191.27,42.31 192.03,37.94 192.8,33.5 193.6,36.1 194.4,36.61 195.2,39.3 196.05,42.11 196.9,45.1 197.8,52.19 198.7,59.1 199.8,75.3 200.55,65.84 201.3,55 202.5,42.2 203.5,37.8 204.2,45.67 204.9,52.4 205.65,46.51 206.4,39.3 207.1,52.7 207.8,66.9 208.55,55.1 209.3,43.6 210.03,50.15 210.77,57.89 211.5,64 212.2,59.72 212.9,53.8 213.63,46.87 214.37,40.62 215.1,34.9 215.83,34.42 216.57,34.42 217.3,34.9 218.03,35.84 218.77,36.99 219.5,37.8 220.22,41.37 220.95,44.91 221.68,49.65 222.4,53.8 223.45,63.01 224.5,72.7 225.23,73.32 225.97,74.52 226.7,74.2 227.43,70.18 228.17,65.49 228.9,61.1 229.63,61.78 230.37,62.35 231.1,62.5 231.83,62.7 232.57,65.22 233.3,65.5 234.7,71.3 235.45,73.95 236.2,75.6 236.93,71.44 237.67,66.47 238.4,61.1 239.45,49.26 240.5,37.8 241.23,41.52 241.97,44.89 242.7,49.5 243.42,52.99 244.15,55.21 244.88,58.47 245.6,62.5 246.33,69.28 247.07,76.49 247.8,84.4 248.55,71.71 249.3,59.6 250.03,49.09 250.77,39.3 251.5,30.5 252.55,32.07 253.6,34.9 254.35,39.28 255.1,45.1 255.8,48.5 256.5,52.4 257.25,41.35 258,32 259,18.9 260.2,59.6 260.9,69.72 261.6,78.5 262.35,65.66 263.1,52.4 264.2,40" fill="none" stroke="#ffa6dc" stroke-opacity="0.3" stroke-width="2.6" vector-effect="non-scaling-stroke"/>
</g>
<clipPath id="gc3"><rect x="0" y="128" width="130" height="8"/></clipPath>
<g clip-path="url(#gc3)">
<polyline transform="translate(0,132) scale(1,0.22) translate(0,-56)" points="28.5,66.6 29.62,66.5 30.75,66.56 31.88,66.87 33,66.4 34,66.53 35,66.73 36,66.97 37,66.72 38,67.2 39,67.54 40,67.98 41,68.47 42,68.5 43,67.84 44,67.8 45,67.34 46,67.5 47,67.56 48,67.19 49,66.29 50,66.5 51,67.24 52,67.48 53,67.43 54,67.66 55,67.8 56,67.26 57,66.92 58,67.23 59,66.56 60,66.8 61,66.67 62,66.89 63,66.86 64,67.5 65,67.34 66,67.19 67,67.47 68,67 69,67.77 70,68.5 71.4,71 72.3,58 73.1,46.4 75,45.8 76,47.29 77,48.5 78.5,58 80,70 81,62 82.4,48.5 83.47,47.8 84.53,47.26 85.6,46.4 86.95,48.66 88.3,51 89.75,53.38 91.2,56.2 92.4,55.25 93.6,53.3 94.75,53.8 95.9,53.3 97.35,55.09 98.8,56.2 99.95,57.86 101.1,59.1 102.25,60.67 103.4,62.6 105.2,54.4 106.35,49.48 107.5,45.1 108.95,44.34 110.4,44 111.55,44.72 112.7,46.3 113.7,48.1 114.7,49.27 115.7,50.9 117.15,49.25 118.6,46.9 119.75,45.89 120.9,45.1 122.07,45.56 123.23,45.45 124.4,45.1 125.55,45.75 126.7,47.4 128.4,64.9 129.6,65.16 130.8,66 131.95,67.01 133.1,67.2 134.8,70.1 136,71.52 137.2,73 138.35,75.83 139.5,77.7 140.7,64.9 142.4,45.1 144.1,42.8 146,48 147.35,52.85 148.7,57.9 149.85,55.17 151,53.3 152.15,55.13 153.3,56.7 154.45,57.58 155.6,57.9 156.77,57.67 157.93,57.49 159.1,57.9 160.25,58.33 161.4,59.1 162.6,59.56 163.8,59.1 164.95,57.61 166.1,55.6 167.55,52.87 169,50.9 170.45,50.35 171.9,50.3 173.05,49.65 174.2,49.8 176,63.7 177.7,64.9 178.85,60.36 180,56.7 181.2,58.75 182.4,60.2 183.55,62.23 184.7,64.9 185.85,64.96 187,64.9 188.15,60.75 189.3,56.7 190.5,54.69 191.7,53.3 192.85,52.63 194,51.5 195.15,52.03 196.3,53.3 197.5,54.59 198.7,55.6 200.4,63.7 202.1,55.5 203.5,52.82 204.9,50.9 206.35,51.57 207.8,52.4 209.25,53.56 210.7,55.3 211.8,52.87 212.9,50.9 214.35,47.02 215.8,42.2 216.9,41.75 218,40.7 219.45,43.4 220.9,46.5 222,53.43 223.1,59.6 224.5,69.8 225.6,62.96 226.7,56.7 228.15,53.69 229.6,50.9 230.7,52 231.8,52.4 232.9,56.14 234,59.6 235.1,59.95 236.2,61.1 237.3,57.94 238.4,53.8 239.85,50.61 241.3,48 242.75,49.96 244.2,52.4 245.3,54.12 246.4,55.3 247.45,52.23 248.5,49.5 249.5,48.8 250.5,48.07 251.5,48 252.95,46.84 254.4,46.5 255.85,47.33 257.3,48 258.4,52.09 259.5,56.7 260.9,64 262.4,65.5 264.2,64" fill="none" stroke="#86f4ea" stroke-opacity="0.3" stroke-width="5" vector-effect="non-scaling-stroke"/>
<polyline transform="translate(0,132) scale(1,0.22) translate(0,-56)" points="28.5,67 29.4,67.38 30.3,68.4 31.5,78.8 32.7,72 33.8,59.1 35,56.7 35.8,57 37,76.5 38.2,58 39.1,56.87 40,57 41,58.27 42,59 43,56 44.3,70.7 45.4,62 46.6,57.9 47.37,56.36 48.13,56.43 48.9,55.6 49.7,54.19 50.5,52.47 51.3,52.1 52.4,81.2 53.6,59.1 54.55,59.06 55.5,59 56.5,78.8 57.6,57.9 58.5,67.52 59.4,78.8 60.6,59.1 61.45,66.53 62.3,74.2 63.15,65.28 64,57.9 64.9,57.16 65.8,57.9 66.65,60.11 67.5,62.6 68.4,70.14 69.3,76.5 70.4,62.6 71.2,54.56 72,47.37 72.8,40.5 73.9,42.8 75.1,53.3 75.95,56.98 76.8,60.2 77.7,65.11 78.6,68.4 79.45,62.69 80.3,56.7 81.2,48.41 82.1,40.5 82.95,40.46 83.8,38.7 84.65,38.78 85.5,40.5 86.7,50.9 87.5,57.4 88.3,62.6 88.9,82.9 89.8,82.52 90.7,82.9 91.2,56.7 91.92,54.91 92.65,53.71 93.38,52.91 94.1,52.1 95.3,42.8 96.5,45.1 97.6,53.3 98.4,57.74 99.2,60.46 100,64.9 100.77,68.15 101.53,71.35 102.3,74.2 103.15,68.17 104,62.6 104.9,58.04 105.8,53.3 106.65,43.76 107.5,35.8 108.7,38.1 109.42,39.06 110.15,41.07 110.88,43.67 111.6,45.1 112.32,47.02 113.05,48.87 113.78,51.4 114.5,53.3 115.7,61.4 116.8,53.3 117.57,47.98 118.33,42.47 119.1,37.6 120,38.68 120.9,38.7 121.67,39.66 122.43,39.44 123.2,40.5 123.97,43.73 124.73,46.75 125.5,49.8 126.7,56.7 127.55,61.48 128.4,64.9 129.3,67.06 130.2,68.4 130.97,67.22 131.73,67.66 132.5,66 133.27,67.28 134.03,69.79 134.8,71.9 135.6,73.13 136.4,72.81 137.2,74.2 138.05,78.53 138.9,82.9 139.8,73.07 140.7,64.9 141.55,54.15 142.4,42.8 143,38.1 144.3,40.5 145.7,42.8 146.6,51.43 147.5,59.1 148.35,60.98 149.2,62.6 150.1,55.68 151,47.4 152.1,75.3 153,58.71 153.9,42.8 155,36.4 155.9,48.1 156.8,59.1 158,68.4 159.1,74.2 160,59.82 160.9,45.1 161.75,53.39 162.6,61.4 163.45,57.27 164.3,53.3 165.2,49.26 166.1,44 166.87,41.7 167.63,37.75 168.4,34.7 169.3,37.3 170.2,39.3 170.97,41.61 171.73,45.86 172.5,48.6 173.27,50.43 174.03,52.62 174.8,53.3 175.7,59.68 176.6,64.9 177.37,62.58 178.13,60.83 178.9,59.1 179.67,60.94 180.43,61.31 181.2,63.7 181.97,64.4 182.73,64.64 183.5,66 184.4,66.51 185.3,68.4 186.15,69.36 187,71.9 187.9,67.13 188.8,61.4 189.65,53.73 190.5,47.4 191.27,42.31 192.03,37.94 192.8,33.5 193.6,36.1 194.4,36.61 195.2,39.3 196.05,42.11 196.9,45.1 197.8,52.19 198.7,59.1 199.8,75.3 200.55,65.84 201.3,55 202.5,42.2 203.5,37.8 204.2,45.67 204.9,52.4 205.65,46.51 206.4,39.3 207.1,52.7 207.8,66.9 208.55,55.1 209.3,43.6 210.03,50.15 210.77,57.89 211.5,64 212.2,59.72 212.9,53.8 213.63,46.87 214.37,40.62 215.1,34.9 215.83,34.42 216.57,34.42 217.3,34.9 218.03,35.84 218.77,36.99 219.5,37.8 220.22,41.37 220.95,44.91 221.68,49.65 222.4,53.8 223.45,63.01 224.5,72.7 225.23,73.32 225.97,74.52 226.7,74.2 227.43,70.18 228.17,65.49 228.9,61.1 229.63,61.78 230.37,62.35 231.1,62.5 231.83,62.7 232.57,65.22 233.3,65.5 234.7,71.3 235.45,73.95 236.2,75.6 236.93,71.44 237.67,66.47 238.4,61.1 239.45,49.26 240.5,37.8 241.23,41.52 241.97,44.89 242.7,49.5 243.42,52.99 244.15,55.21 244.88,58.47 245.6,62.5 246.33,69.28 247.07,76.49 247.8,84.4 248.55,71.71 249.3,59.6 250.03,49.09 250.77,39.3 251.5,30.5 252.55,32.07 253.6,34.9 254.35,39.28 255.1,45.1 255.8,48.5 256.5,52.4 257.25,41.35 258,32 259,18.9 260.2,59.6 260.9,69.72 261.6,78.5 262.35,65.66 263.1,52.4 264.2,40" fill="none" stroke="#ffa6dc" stroke-opacity="0.3" stroke-width="2.6" vector-effect="non-scaling-stroke"/>
</g>
<clipPath id="gc4"><rect x="225" y="128" width="40" height="8"/></clipPath>
<g clip-path="url(#gc4)">
<polyline transform="translate(0,132) scale(1,0.22) translate(0,-56)" points="28.5,66.6 29.62,66.5 30.75,66.56 31.88,66.87 33,66.4 34,66.53 35,66.73 36,66.97 37,66.72 38,67.2 39,67.54 40,67.98 41,68.47 42,68.5 43,67.84 44,67.8 45,67.34 46,67.5 47,67.56 48,67.19 49,66.29 50,66.5 51,67.24 52,67.48 53,67.43 54,67.66 55,67.8 56,67.26 57,66.92 58,67.23 59,66.56 60,66.8 61,66.67 62,66.89 63,66.86 64,67.5 65,67.34 66,67.19 67,67.47 68,67 69,67.77 70,68.5 71.4,71 72.3,58 73.1,46.4 75,45.8 76,47.29 77,48.5 78.5,58 80,70 81,62 82.4,48.5 83.47,47.8 84.53,47.26 85.6,46.4 86.95,48.66 88.3,51 89.75,53.38 91.2,56.2 92.4,55.25 93.6,53.3 94.75,53.8 95.9,53.3 97.35,55.09 98.8,56.2 99.95,57.86 101.1,59.1 102.25,60.67 103.4,62.6 105.2,54.4 106.35,49.48 107.5,45.1 108.95,44.34 110.4,44 111.55,44.72 112.7,46.3 113.7,48.1 114.7,49.27 115.7,50.9 117.15,49.25 118.6,46.9 119.75,45.89 120.9,45.1 122.07,45.56 123.23,45.45 124.4,45.1 125.55,45.75 126.7,47.4 128.4,64.9 129.6,65.16 130.8,66 131.95,67.01 133.1,67.2 134.8,70.1 136,71.52 137.2,73 138.35,75.83 139.5,77.7 140.7,64.9 142.4,45.1 144.1,42.8 146,48 147.35,52.85 148.7,57.9 149.85,55.17 151,53.3 152.15,55.13 153.3,56.7 154.45,57.58 155.6,57.9 156.77,57.67 157.93,57.49 159.1,57.9 160.25,58.33 161.4,59.1 162.6,59.56 163.8,59.1 164.95,57.61 166.1,55.6 167.55,52.87 169,50.9 170.45,50.35 171.9,50.3 173.05,49.65 174.2,49.8 176,63.7 177.7,64.9 178.85,60.36 180,56.7 181.2,58.75 182.4,60.2 183.55,62.23 184.7,64.9 185.85,64.96 187,64.9 188.15,60.75 189.3,56.7 190.5,54.69 191.7,53.3 192.85,52.63 194,51.5 195.15,52.03 196.3,53.3 197.5,54.59 198.7,55.6 200.4,63.7 202.1,55.5 203.5,52.82 204.9,50.9 206.35,51.57 207.8,52.4 209.25,53.56 210.7,55.3 211.8,52.87 212.9,50.9 214.35,47.02 215.8,42.2 216.9,41.75 218,40.7 219.45,43.4 220.9,46.5 222,53.43 223.1,59.6 224.5,69.8 225.6,62.96 226.7,56.7 228.15,53.69 229.6,50.9 230.7,52 231.8,52.4 232.9,56.14 234,59.6 235.1,59.95 236.2,61.1 237.3,57.94 238.4,53.8 239.85,50.61 241.3,48 242.75,49.96 244.2,52.4 245.3,54.12 246.4,55.3 247.45,52.23 248.5,49.5 249.5,48.8 250.5,48.07 251.5,48 252.95,46.84 254.4,46.5 255.85,47.33 257.3,48 258.4,52.09 259.5,56.7 260.9,64 262.4,65.5 264.2,64" fill="none" stroke="#86f4ea" stroke-opacity="0.3" stroke-width="5" vector-effect="non-scaling-stroke"/>
<polyline transform="translate(0,132) scale(1,0.22) translate(0,-56)" points="28.5,67 29.4,67.38 30.3,68.4 31.5,78.8 32.7,72 33.8,59.1 35,56.7 35.8,57 37,76.5 38.2,58 39.1,56.87 40,57 41,58.27 42,59 43,56 44.3,70.7 45.4,62 46.6,57.9 47.37,56.36 48.13,56.43 48.9,55.6 49.7,54.19 50.5,52.47 51.3,52.1 52.4,81.2 53.6,59.1 54.55,59.06 55.5,59 56.5,78.8 57.6,57.9 58.5,67.52 59.4,78.8 60.6,59.1 61.45,66.53 62.3,74.2 63.15,65.28 64,57.9 64.9,57.16 65.8,57.9 66.65,60.11 67.5,62.6 68.4,70.14 69.3,76.5 70.4,62.6 71.2,54.56 72,47.37 72.8,40.5 73.9,42.8 75.1,53.3 75.95,56.98 76.8,60.2 77.7,65.11 78.6,68.4 79.45,62.69 80.3,56.7 81.2,48.41 82.1,40.5 82.95,40.46 83.8,38.7 84.65,38.78 85.5,40.5 86.7,50.9 87.5,57.4 88.3,62.6 88.9,82.9 89.8,82.52 90.7,82.9 91.2,56.7 91.92,54.91 92.65,53.71 93.38,52.91 94.1,52.1 95.3,42.8 96.5,45.1 97.6,53.3 98.4,57.74 99.2,60.46 100,64.9 100.77,68.15 101.53,71.35 102.3,74.2 103.15,68.17 104,62.6 104.9,58.04 105.8,53.3 106.65,43.76 107.5,35.8 108.7,38.1 109.42,39.06 110.15,41.07 110.88,43.67 111.6,45.1 112.32,47.02 113.05,48.87 113.78,51.4 114.5,53.3 115.7,61.4 116.8,53.3 117.57,47.98 118.33,42.47 119.1,37.6 120,38.68 120.9,38.7 121.67,39.66 122.43,39.44 123.2,40.5 123.97,43.73 124.73,46.75 125.5,49.8 126.7,56.7 127.55,61.48 128.4,64.9 129.3,67.06 130.2,68.4 130.97,67.22 131.73,67.66 132.5,66 133.27,67.28 134.03,69.79 134.8,71.9 135.6,73.13 136.4,72.81 137.2,74.2 138.05,78.53 138.9,82.9 139.8,73.07 140.7,64.9 141.55,54.15 142.4,42.8 143,38.1 144.3,40.5 145.7,42.8 146.6,51.43 147.5,59.1 148.35,60.98 149.2,62.6 150.1,55.68 151,47.4 152.1,75.3 153,58.71 153.9,42.8 155,36.4 155.9,48.1 156.8,59.1 158,68.4 159.1,74.2 160,59.82 160.9,45.1 161.75,53.39 162.6,61.4 163.45,57.27 164.3,53.3 165.2,49.26 166.1,44 166.87,41.7 167.63,37.75 168.4,34.7 169.3,37.3 170.2,39.3 170.97,41.61 171.73,45.86 172.5,48.6 173.27,50.43 174.03,52.62 174.8,53.3 175.7,59.68 176.6,64.9 177.37,62.58 178.13,60.83 178.9,59.1 179.67,60.94 180.43,61.31 181.2,63.7 181.97,64.4 182.73,64.64 183.5,66 184.4,66.51 185.3,68.4 186.15,69.36 187,71.9 187.9,67.13 188.8,61.4 189.65,53.73 190.5,47.4 191.27,42.31 192.03,37.94 192.8,33.5 193.6,36.1 194.4,36.61 195.2,39.3 196.05,42.11 196.9,45.1 197.8,52.19 198.7,59.1 199.8,75.3 200.55,65.84 201.3,55 202.5,42.2 203.5,37.8 204.2,45.67 204.9,52.4 205.65,46.51 206.4,39.3 207.1,52.7 207.8,66.9 208.55,55.1 209.3,43.6 210.03,50.15 210.77,57.89 211.5,64 212.2,59.72 212.9,53.8 213.63,46.87 214.37,40.62 215.1,34.9 215.83,34.42 216.57,34.42 217.3,34.9 218.03,35.84 218.77,36.99 219.5,37.8 220.22,41.37 220.95,44.91 221.68,49.65 222.4,53.8 223.45,63.01 224.5,72.7 225.23,73.32 225.97,74.52 226.7,74.2 227.43,70.18 228.17,65.49 228.9,61.1 229.63,61.78 230.37,62.35 231.1,62.5 231.83,62.7 232.57,65.22 233.3,65.5 234.7,71.3 235.45,73.95 236.2,75.6 236.93,71.44 237.67,66.47 238.4,61.1 239.45,49.26 240.5,37.8 241.23,41.52 241.97,44.89 242.7,49.5 243.42,52.99 244.15,55.21 244.88,58.47 245.6,62.5 246.33,69.28 247.07,76.49 247.8,84.4 248.55,71.71 249.3,59.6 250.03,49.09 250.77,39.3 251.5,30.5 252.55,32.07 253.6,34.9 254.35,39.28 255.1,45.1 255.8,48.5 256.5,52.4 257.25,41.35 258,32 259,18.9 260.2,59.6 260.9,69.72 261.6,78.5 262.35,65.66 263.1,52.4 264.2,40" fill="none" stroke="#ffa6dc" stroke-opacity="0.3" stroke-width="2.6" vector-effect="non-scaling-stroke"/>
</g>
<text x="55.9" y="103.2" font-size="8.4" fill="#1a1a1a" textLength="15.6" lengthAdjust="spacingAndGlyphs">data</text>
<text x="55.9" y="114" font-size="8.4" fill="#1a1a1a" textLength="53" lengthAdjust="spacingAndGlyphs">10% of models</text>
<text x="28.5" y="130.9" font-size="8.5" fill="#1a1a1a" text-anchor="middle">0</text>
<text x="58.04" y="130.9" font-size="8.5" fill="#1a1a1a" text-anchor="middle">100</text>
<text x="87.58" y="130.9" font-size="8.5" fill="#1a1a1a" text-anchor="middle">200</text>
<text x="117.12" y="130.9" font-size="8.5" fill="#1a1a1a" text-anchor="middle">300</text>
<text x="146.66" y="130.9" font-size="8.5" fill="#1a1a1a" text-anchor="middle">400</text>
<text x="176.2" y="130.9" font-size="8.5" fill="#1a1a1a" text-anchor="middle">500</text>
<text x="205.74" y="130.9" font-size="8.5" fill="#1a1a1a" text-anchor="middle">600</text>
<text x="235.28" y="130.9" font-size="8.5" fill="#1a1a1a" text-anchor="middle">700</text>
<text x="24.7" y="124.5" font-size="8.5" fill="#1a1a1a" text-anchor="end">0.0</text>
<text x="24.7" y="98.25" font-size="8.5" fill="#1a1a1a" text-anchor="end">0.5</text>
<text x="24.7" y="72" font-size="8.5" fill="#1a1a1a" text-anchor="end">1.0</text>
<text x="24.7" y="45.75" font-size="8.5" fill="#1a1a1a" text-anchor="end">1.5</text>
<text x="24.7" y="19.5" font-size="8.5" fill="#1a1a1a" text-anchor="end">2.0</text>
<text transform="translate(9.9,68.8) rotate(-90)" font-size="7.3" fill="#1a1a1a" font-style="italic" x="-6.3" textLength="12.6" lengthAdjust="spacingAndGlyphs">SIFI</text>
<text x="98.97" y="13.1" font-size="8.7" fill="#1a1a1a" textLength="94.76" lengthAdjust="spacingAndGlyphs">Vegetation - <tspan font-style="italic">r</tspan><tspan dy="-3.6" font-size="6.44">2</tspan><tspan dy="3.6">=[0.44]</tspan></text>
<text x="301.1" y="103.2" font-size="8.4" fill="#1a1a1a" textLength="15.6" lengthAdjust="spacingAndGlyphs">data</text>
<text x="301.1" y="114" font-size="8.4" fill="#1a1a1a" textLength="53" lengthAdjust="spacingAndGlyphs">10% of models</text>
<text x="273.7" y="130.9" font-size="8.5" fill="#1a1a1a" text-anchor="middle">0</text>
<text x="303.24" y="130.9" font-size="8.5" fill="#1a1a1a" text-anchor="middle">100</text>
<text x="332.78" y="130.9" font-size="8.5" fill="#1a1a1a" text-anchor="middle">200</text>
<text x="362.32" y="130.9" font-size="8.5" fill="#1a1a1a" text-anchor="middle">300</text>
<text x="391.86" y="130.9" font-size="8.5" fill="#1a1a1a" text-anchor="middle">400</text>
<text x="421.4" y="130.9" font-size="8.5" fill="#1a1a1a" text-anchor="middle">500</text>
<text x="450.94" y="130.9" font-size="8.5" fill="#1a1a1a" text-anchor="middle">600</text>
<text x="480.48" y="130.9" font-size="8.5" fill="#1a1a1a" text-anchor="middle">700</text>
<text x="347.65" y="13.1" font-size="8.7" fill="#1a1a1a" textLength="87.8" lengthAdjust="spacingAndGlyphs">Buildings - <tspan font-style="italic">r</tspan><tspan dy="-3.6" font-size="6.44">2</tspan><tspan dy="3.6">=[0.01]</tspan></text>
<text x="55.9" y="238.2" font-size="8.4" fill="#1a1a1a" textLength="15.6" lengthAdjust="spacingAndGlyphs">data</text>
<text x="55.9" y="249" font-size="8.4" fill="#1a1a1a" textLength="53" lengthAdjust="spacingAndGlyphs">10% of models</text>
<text x="28.5" y="265.9" font-size="8.5" fill="#1a1a1a" text-anchor="middle">0</text>
<text x="58.04" y="265.9" font-size="8.5" fill="#1a1a1a" text-anchor="middle">100</text>
<text x="87.58" y="265.9" font-size="8.5" fill="#1a1a1a" text-anchor="middle">200</text>
<text x="117.12" y="265.9" font-size="8.5" fill="#1a1a1a" text-anchor="middle">300</text>
<text x="146.66" y="265.9" font-size="8.5" fill="#1a1a1a" text-anchor="middle">400</text>
<text x="176.2" y="265.9" font-size="8.5" fill="#1a1a1a" text-anchor="middle">500</text>
<text x="205.74" y="265.9" font-size="8.5" fill="#1a1a1a" text-anchor="middle">600</text>
<text x="235.28" y="265.9" font-size="8.5" fill="#1a1a1a" text-anchor="middle">700</text>
<text x="24.7" y="259.5" font-size="8.5" fill="#1a1a1a" text-anchor="end">0.0</text>
<text x="24.7" y="233.25" font-size="8.5" fill="#1a1a1a" text-anchor="end">0.5</text>
<text x="24.7" y="207" font-size="8.5" fill="#1a1a1a" text-anchor="end">1.0</text>
<text x="24.7" y="180.75" font-size="8.5" fill="#1a1a1a" text-anchor="end">1.5</text>
<text x="24.7" y="154.5" font-size="8.5" fill="#1a1a1a" text-anchor="end">2.0</text>
<text transform="translate(9.9,203.8) rotate(-90)" font-size="7.3" fill="#1a1a1a" font-style="italic" x="-6.3" textLength="12.6" lengthAdjust="spacingAndGlyphs">SIFI</text>
<text x="93.28" y="148.1" font-size="8.7" fill="#1a1a1a" textLength="106.13" lengthAdjust="spacingAndGlyphs">Buildings [r] - <tspan font-style="italic">r</tspan><tspan dy="-3.6" font-size="6.44">2</tspan><tspan dy="3.6">=[0.008]</tspan></text>
<text x="301.1" y="238.2" font-size="8.4" fill="#1a1a1a" textLength="15.6" lengthAdjust="spacingAndGlyphs">data</text>
<text x="301.1" y="249" font-size="8.4" fill="#1a1a1a" textLength="53" lengthAdjust="spacingAndGlyphs">10% of models</text>
<text x="273.7" y="265.9" font-size="8.5" fill="#1a1a1a" text-anchor="middle">0</text>
<text x="303.24" y="265.9" font-size="8.5" fill="#1a1a1a" text-anchor="middle">100</text>
<text x="332.78" y="265.9" font-size="8.5" fill="#1a1a1a" text-anchor="middle">200</text>
<text x="362.32" y="265.9" font-size="8.5" fill="#1a1a1a" text-anchor="middle">300</text>
<text x="391.86" y="265.9" font-size="8.5" fill="#1a1a1a" text-anchor="middle">400</text>
<text x="421.4" y="265.9" font-size="8.5" fill="#1a1a1a" text-anchor="middle">500</text>
<text x="450.94" y="265.9" font-size="8.5" fill="#1a1a1a" text-anchor="middle">600</text>
<text x="480.48" y="265.9" font-size="8.5" fill="#1a1a1a" text-anchor="middle">700</text>
<text x="340.25" y="148.1" font-size="8.7" fill="#1a1a1a" textLength="102.61" lengthAdjust="spacingAndGlyphs">Buildings [p] - <tspan font-style="italic">r</tspan><tspan dy="-3.6" font-size="6.44">2</tspan><tspan dy="3.6">=[0.12]</tspan></text>
<text x="55.9" y="373.2" font-size="8.4" fill="#1a1a1a" textLength="15.6" lengthAdjust="spacingAndGlyphs">data</text>
<text x="55.9" y="384" font-size="8.4" fill="#1a1a1a" textLength="53" lengthAdjust="spacingAndGlyphs">10% of models</text>
<text x="28.5" y="400.9" font-size="8.5" fill="#1a1a1a" text-anchor="middle">0</text>
<text x="58.04" y="400.9" font-size="8.5" fill="#1a1a1a" text-anchor="middle">100</text>
<text x="87.58" y="400.9" font-size="8.5" fill="#1a1a1a" text-anchor="middle">200</text>
<text x="117.12" y="400.9" font-size="8.5" fill="#1a1a1a" text-anchor="middle">300</text>
<text x="146.66" y="400.9" font-size="8.5" fill="#1a1a1a" text-anchor="middle">400</text>
<text x="176.2" y="400.9" font-size="8.5" fill="#1a1a1a" text-anchor="middle">500</text>
<text x="205.74" y="400.9" font-size="8.5" fill="#1a1a1a" text-anchor="middle">600</text>
<text x="235.28" y="400.9" font-size="8.5" fill="#1a1a1a" text-anchor="middle">700</text>
<text x="24.7" y="394.5" font-size="8.5" fill="#1a1a1a" text-anchor="end">0.0</text>
<text x="24.7" y="368.25" font-size="8.5" fill="#1a1a1a" text-anchor="end">0.5</text>
<text x="24.7" y="342" font-size="8.5" fill="#1a1a1a" text-anchor="end">1.0</text>
<text x="24.7" y="315.75" font-size="8.5" fill="#1a1a1a" text-anchor="end">1.5</text>
<text x="24.7" y="289.5" font-size="8.5" fill="#1a1a1a" text-anchor="end">2.0</text>
<text transform="translate(9.9,338.8) rotate(-90)" font-size="7.3" fill="#1a1a1a" font-style="italic" x="-6.3" textLength="12.6" lengthAdjust="spacingAndGlyphs">SIFI</text>
<text x="94.26" y="283.1" font-size="8.7" fill="#1a1a1a" textLength="104.17" lengthAdjust="spacingAndGlyphs">Buildings [w] - <tspan font-style="italic">r</tspan><tspan dy="-3.6" font-size="6.44">2</tspan><tspan dy="3.6">=[0.04]</tspan></text>
<text x="301.1" y="373.2" font-size="8.4" fill="#1a1a1a" textLength="15.6" lengthAdjust="spacingAndGlyphs">data</text>
<text x="301.1" y="384" font-size="8.4" fill="#1a1a1a" textLength="53" lengthAdjust="spacingAndGlyphs">10% of models</text>
<text x="273.7" y="400.9" font-size="8.5" fill="#1a1a1a" text-anchor="middle">0</text>
<text x="303.24" y="400.9" font-size="8.5" fill="#1a1a1a" text-anchor="middle">100</text>
<text x="332.78" y="400.9" font-size="8.5" fill="#1a1a1a" text-anchor="middle">200</text>
<text x="362.32" y="400.9" font-size="8.5" fill="#1a1a1a" text-anchor="middle">300</text>
<text x="391.86" y="400.9" font-size="8.5" fill="#1a1a1a" text-anchor="middle">400</text>
<text x="421.4" y="400.9" font-size="8.5" fill="#1a1a1a" text-anchor="middle">500</text>
<text x="450.94" y="400.9" font-size="8.5" fill="#1a1a1a" text-anchor="middle">600</text>
<text x="480.48" y="400.9" font-size="8.5" fill="#1a1a1a" text-anchor="middle">700</text>
<text x="340.43" y="283.1" font-size="8.7" fill="#1a1a1a" textLength="102.24" lengthAdjust="spacingAndGlyphs">Buildings [y] - <tspan font-style="italic">r</tspan><tspan dy="-3.6" font-size="6.44">2</tspan><tspan dy="3.6">=[0.04]</tspan></text>
<text x="391.55" y="410.2" font-size="8.5" fill="#1a1a1a" textLength="46.3" lengthAdjust="spacingAndGlyphs" dx="-23.15">scan number</text>
<text x="55.9" y="508.2" font-size="8.4" fill="#1a1a1a" textLength="15.6" lengthAdjust="spacingAndGlyphs">data</text>
<text x="55.9" y="519" font-size="8.4" fill="#1a1a1a" textLength="53" lengthAdjust="spacingAndGlyphs">10% of models</text>
<text x="28.5" y="535.9" font-size="8.5" fill="#1a1a1a" text-anchor="middle">0</text>
<text x="58.04" y="535.9" font-size="8.5" fill="#1a1a1a" text-anchor="middle">100</text>
<text x="87.58" y="535.9" font-size="8.5" fill="#1a1a1a" text-anchor="middle">200</text>
<text x="117.12" y="535.9" font-size="8.5" fill="#1a1a1a" text-anchor="middle">300</text>
<text x="146.66" y="535.9" font-size="8.5" fill="#1a1a1a" text-anchor="middle">400</text>
<text x="176.2" y="535.9" font-size="8.5" fill="#1a1a1a" text-anchor="middle">500</text>
<text x="205.74" y="535.9" font-size="8.5" fill="#1a1a1a" text-anchor="middle">600</text>
<text x="235.28" y="535.9" font-size="8.5" fill="#1a1a1a" text-anchor="middle">700</text>
<text x="24.7" y="529.5" font-size="8.5" fill="#1a1a1a" text-anchor="end">0.0</text>
<text x="24.7" y="503.25" font-size="8.5" fill="#1a1a1a" text-anchor="end">0.5</text>
<text x="24.7" y="477" font-size="8.5" fill="#1a1a1a" text-anchor="end">1.0</text>
<text x="24.7" y="450.75" font-size="8.5" fill="#1a1a1a" text-anchor="end">1.5</text>
<text x="24.7" y="424.5" font-size="8.5" fill="#1a1a1a" text-anchor="end">2.0</text>
<text transform="translate(9.9,473.8) rotate(-90)" font-size="7.3" fill="#1a1a1a" font-style="italic" x="-6.3" textLength="12.6" lengthAdjust="spacingAndGlyphs">SIFI</text>
<text x="95.05" y="418.1" font-size="8.7" fill="#1a1a1a" textLength="102.61" lengthAdjust="spacingAndGlyphs">Buildings [b] - <tspan font-style="italic">r</tspan><tspan dy="-3.6" font-size="6.44">2</tspan><tspan dy="3.6">=[0.11]</tspan></text>
<text x="146.35" y="545.2" font-size="8.5" fill="#1a1a1a" textLength="46.3" lengthAdjust="spacingAndGlyphs" dx="-23.15">scan number</text>
</svg></body></html>
